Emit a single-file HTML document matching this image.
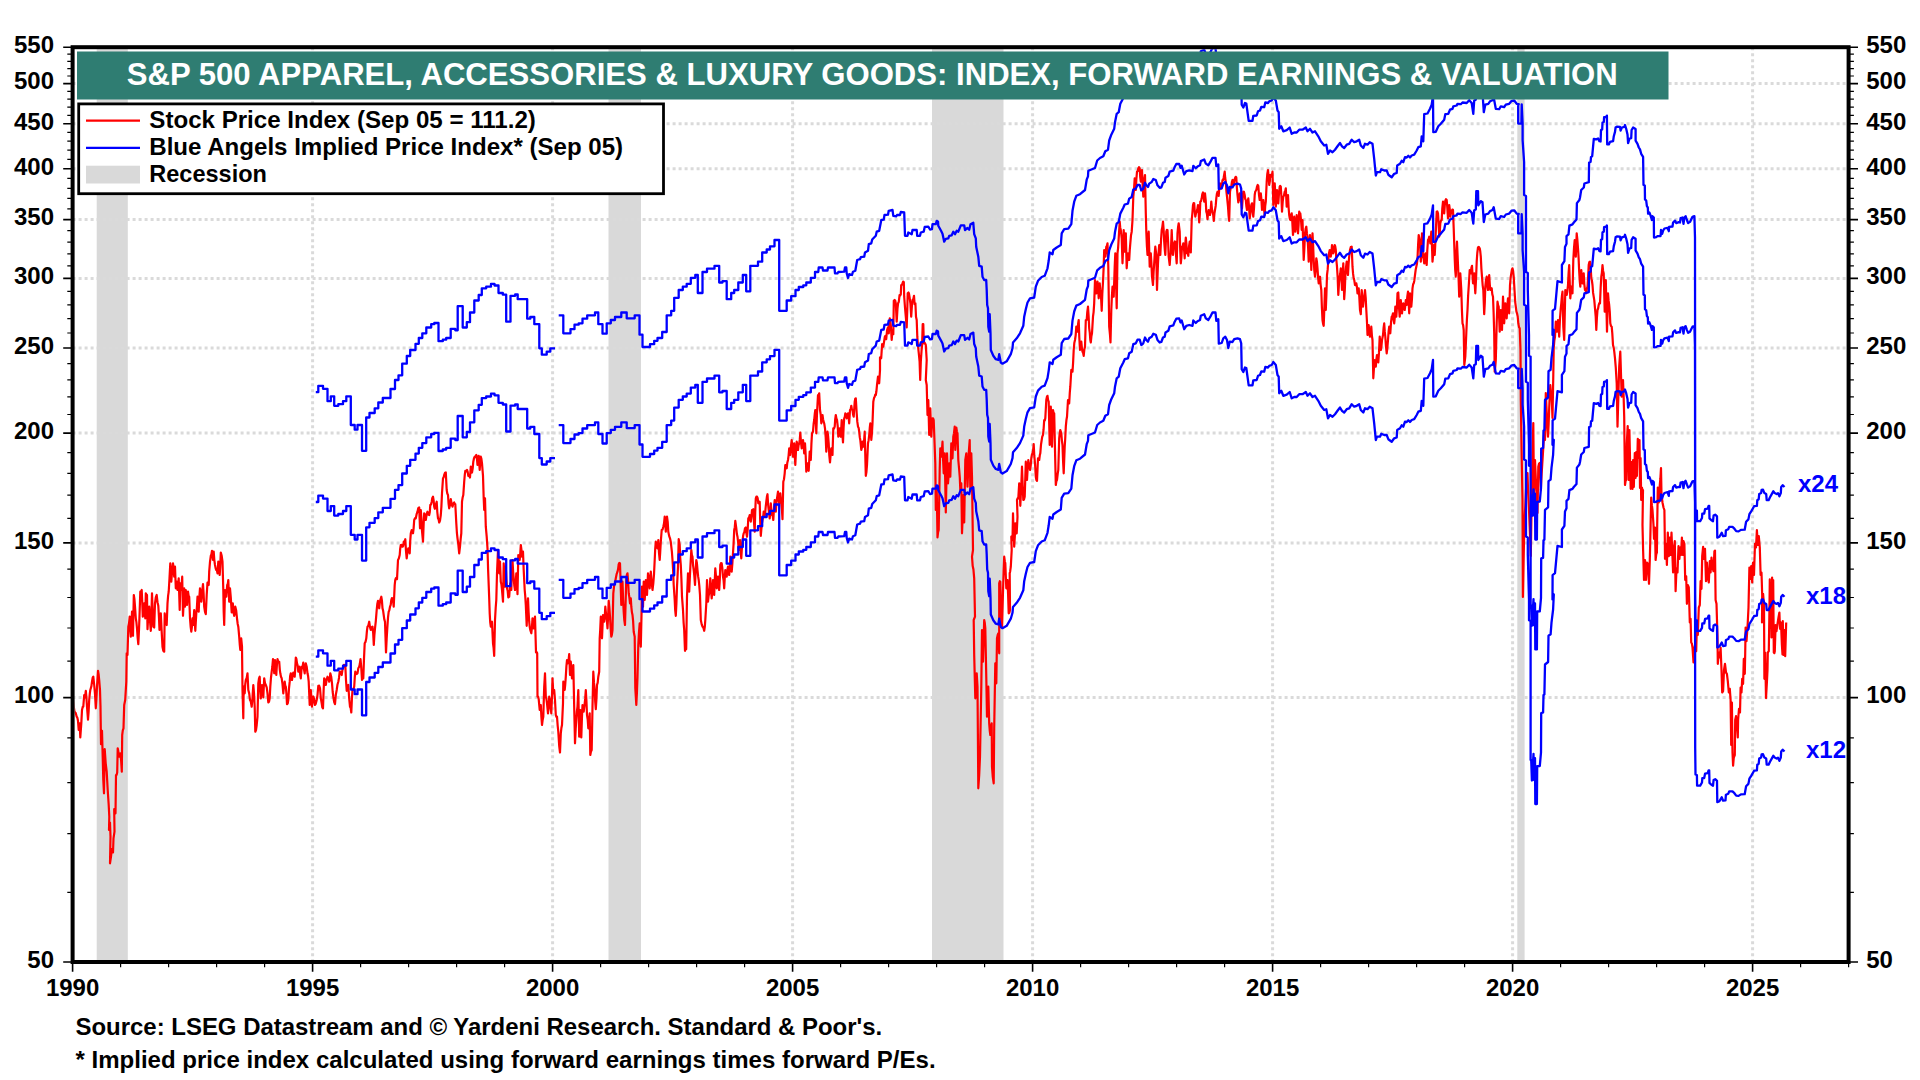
<!DOCTYPE html>
<html lang="en"><head><meta charset="utf-8"><title>S&amp;P 500 Apparel, Accessories &amp; Luxury Goods</title><style>html,body{margin:0;padding:0;background:#fff;width:1920px;height:1080px;overflow:hidden}svg{display:block}</style></head><body>
<svg width="1920" height="1080" viewBox="0 0 1920 1080" font-family='"Liberation Sans", Arial, Helvetica, sans-serif' font-weight="bold">
<rect width="1920" height="1080" fill="#fff"/>
<rect x="96.7" y="47.2" width="31.1" height="914.8" fill="#d9d9d9"/>
<rect x="608.5" y="47.2" width="32.5" height="914.8" fill="#d9d9d9"/>
<rect x="932" y="47.2" width="71.5" height="914.8" fill="#d9d9d9"/>
<rect x="1517.3" y="47.2" width="7.3" height="914.8" fill="#d9d9d9"/>
<path d="M72.6 697.6H1848.6M72.6 542.9H1848.6M72.6 433.1H1848.6M72.6 348.0H1848.6M72.6 278.4H1848.6M72.6 219.6H1848.6M72.6 168.7H1848.6M72.6 123.8H1848.6M72.6 83.6H1848.6M312.6 47.2V962.0M552.6 47.2V962.0M792.6 47.2V962.0M1032.6 47.2V962.0M1272.6 47.2V962.0M1512.6 47.2V962.0M1752.6 47.2V962.0" stroke="#dadada" stroke-width="3" stroke-dasharray="3 3" fill="none"/>
<clipPath id="pc"><rect x="74.6" y="49.2" width="1772" height="910.8"/></clipPath>
<g clip-path="url(#pc)" fill="none" stroke-linejoin="round" stroke-linecap="butt">
<path d="M73.0 700.0L73.7 706.3L74.3 710.2L75.0 712.5L75.8 713.2L76.7 716.7L77.3 717.6L78.0 720.8L78.7 730.0L79.7 723.3L80.3 737.5L81.3 723.3L82.0 710.0L82.7 706.9L83.3 706.7L84.2 695.0L85.0 697.5L85.8 690.8L86.4 697.2L87.0 706.7L88.0 719.7L88.6 712.0L89.2 700.0L89.8 693.7L90.3 690.0L90.8 688.3L91.4 686.1L92.0 681.7L92.7 677.6L93.3 676.7L94.2 685.0L95.0 694.2L95.8 708.3L96.4 699.3L97.0 686.7L98.0 670.8L98.6 674.2L99.2 680.0L100.0 690.0L100.5 706.7L101.0 744.2L102.0 730.8L102.7 756.7L103.3 780.0L104.0 793.3L104.7 749.2L105.7 763.3L106.7 771.7L107.7 790.0L108.7 805.0L109.3 816.7L109.0 830.0L110.0 822.5L110.5 836.7L110.0 863.3L111.0 856.7L111.8 849.2L112.4 849.8L113.0 852.5L113.5 838.3L114.5 831.7L114.2 809.2L114.8 810.0L115.5 813.3L116.0 775.0L116.6 774.9L117.2 772.5L117.7 748.3L118.3 751.3L119.0 756.7L119.7 753.9L120.3 753.3L121.1 760.3L121.8 771.7L122.2 735.0L122.8 730.3L123.5 728.3L124.2 705.0L125.2 700.0L125.8 690.0L126.3 681.7L126.7 653.3L127.5 655.0L128.3 626.7L129.0 623.5L129.7 616.7L130.2 629.0L130.8 636.7L131.4 626.4L132.0 611.7L133.0 635.8L133.8 595.0L134.4 598.9L135.0 606.7L135.8 618.3L136.4 622.1L137.0 628.3L137.7 638.2L138.3 644.2L139.0 629.8L139.7 610.0L140.3 591.7L141.0 592.0L141.7 590.0L142.2 601.4L142.8 616.7L143.5 611.5L144.2 603.3L144.8 612.4L145.3 618.3L145.8 593.3L146.4 595.2L147.0 595.0L147.5 629.2L148.3 615.2L149.2 606.7L150.0 621.0L150.8 630.8L151.4 614.6L152.0 593.3L152.7 611.9L153.3 626.7L154.2 627.5L155.0 603.3L155.8 597.3L156.7 595.0L157.5 602.2L158.3 605.8L158.9 616.0L159.5 630.0L160.2 623.8L160.8 613.3L161.7 632.1L162.5 646.7L163.3 650.7L164.2 651.7L164.7 613.3L165.3 618.5L166.0 622.7L166.7 625.0L167.5 603.3L168.1 595.8L168.7 591.7L169.5 578.3L170.3 563.3L171.3 581.7L172.2 570.1L173.0 563.3L173.6 568.0L174.2 576.7L175.0 566.7L175.8 588.3L176.7 581.7L177.5 590.0L178.1 585.8L178.7 578.3L179.7 610.0L180.3 583.3L181.3 590.0L182.2 576.7L183.0 615.8L183.6 604.0L184.2 588.3L185.0 606.7L185.8 590.0L186.4 599.3L187.0 605.0L188.0 591.7L188.6 595.7L189.2 596.7L190.0 618.3L190.7 627.1L191.3 631.7L191.9 627.0L192.5 618.3L193.3 625.0L194.2 610.0L194.8 622.9L195.3 630.8L196.3 613.3L196.9 607.5L197.5 596.7L198.1 602.6L198.7 611.7L199.3 597.9L200.0 588.3L200.7 593.6L201.3 601.7L202.2 591.1L203.0 584.2L203.6 593.4L204.2 606.7L205.0 611.9L205.8 614.2L206.7 595.0L207.5 582.5L208.1 585.1L208.7 585.0L209.2 571.7L210.0 561.8L210.8 555.8L211.4 554.5L212.0 550.8L213.0 560.0L213.7 551.7L214.3 559.8L215.0 565.0L215.7 568.5L216.3 570.0L216.9 570.2L217.5 573.3L218.3 561.7L219.0 569.8L219.7 575.0L220.2 566.3L220.8 552.5L221.7 555.9L222.5 561.7L223.3 590.0L223.7 611.7L224.2 625.0L225.0 590.0L225.7 591.9L226.3 596.7L227.2 585.0L227.8 583.9L228.3 580.0L229.2 601.7L230.0 588.3L230.8 597.6L231.7 612.5L232.2 609.2L232.8 603.3L233.5 611.7L234.2 615.8L234.8 612.8L235.3 606.7L236.2 610.5L237.0 618.3L237.7 624.0L238.3 626.7L239.2 636.7L239.8 644.8L240.3 650.0L241.2 638.3L242.0 646.7L242.5 690.0L243.3 718.3L243.7 686.7L244.7 693.3L245.2 684.6L245.8 680.0L246.7 678.0L247.5 673.3L248.3 690.0L249.2 693.4L250.0 700.0L250.8 701.6L251.7 706.7L252.5 697.8L253.3 685.0L254.0 693.2L254.7 706.7L255.3 731.7L256.0 730.1L256.7 725.0L257.5 716.7L258.3 683.3L259.0 678.5L259.7 676.7L260.2 689.9L260.8 698.3L261.4 690.0L262.0 685.0L262.7 689.5L263.3 697.5L264.2 678.3L265.0 683.1L265.8 685.0L266.7 687.4L267.5 693.3L268.3 702.5L269.0 701.8L269.7 698.3L270.3 686.7L271.0 677.5L271.7 671.7L272.3 667.0L273.0 659.2L273.6 663.9L274.2 673.3L275.0 660.0L275.7 669.4L276.3 675.0L276.9 664.9L277.5 659.2L278.3 661.5L279.2 661.7L279.8 669.6L280.3 673.3L281.0 676.8L281.7 678.3L282.5 684.2L283.3 693.3L284.0 685.9L284.7 681.7L285.2 685.5L285.8 686.7L286.4 693.4L287.0 704.2L287.7 703.5L288.3 700.0L289.0 688.3L289.7 681.7L290.2 675.7L290.8 673.3L291.4 675.3L292.0 680.0L292.7 674.9L293.3 672.5L294.0 675.6L294.7 676.7L295.2 669.2L295.8 657.5L296.4 658.9L297.0 663.3L297.7 665.6L298.3 671.7L299.0 668.1L299.7 666.7L300.2 674.5L300.8 678.3L301.4 670.7L302.0 666.7L302.7 665.9L303.3 662.5L304.0 669.3L304.7 673.3L305.2 667.1L305.8 663.3L306.7 666.7L307.5 673.3L308.1 676.1L308.7 681.7L309.7 705.0L310.2 695.3L310.8 690.0L311.4 696.8L312.0 706.7L312.7 700.2L313.3 696.7L314.2 699.1L315.0 705.0L315.8 703.6L316.7 700.0L317.5 695.1L318.3 685.8L319.2 685.7L320.0 688.3L320.8 698.1L321.7 703.3L322.3 707.3L323.0 708.3L323.6 690.9L324.2 678.3L325.0 680.0L325.8 685.0L326.7 679.3L327.5 676.7L328.3 678.1L329.2 681.7L329.8 679.1L330.3 673.3L331.2 676.7L332.0 683.3L332.7 692.0L333.3 696.7L334.2 702.1L335.0 704.2L335.8 694.9L336.7 690.0L337.5 684.5L338.3 681.7L339.0 677.9L339.7 671.7L340.3 671.6L341.0 672.6L341.7 675.0L342.5 669.4L343.3 666.7L344.0 664.9L344.7 666.6L345.3 665.0L346.0 680.3L346.7 690.8L347.5 686.5L348.3 685.0L349.2 698.7L350.0 706.7L350.7 708.0L351.3 712.5L351.9 699.0L352.5 690.0L353.3 689.5L354.2 686.7L354.8 677.1L355.3 671.7L356.1 673.1L356.8 674.0L357.5 673.3L358.3 668.3L359.2 666.7L359.8 664.1L360.5 659.2L361.2 666.8L362.0 680.0L362.7 678.0L363.3 678.3L364.0 658.6L364.7 643.3L365.5 641.9L366.3 638.3L366.9 631.1L367.5 626.7L368.3 625.8L369.2 621.7L370.0 627.2L370.8 630.0L371.7 627.2L372.5 626.7L373.2 633.5L373.8 645.0L374.4 634.8L375.0 628.3L375.8 621.2L376.7 610.0L377.3 604.0L378.0 600.8L378.6 606.0L379.2 608.3L379.8 603.0L380.3 600.0L381.3 596.7L381.9 600.4L382.5 608.3L383.1 610.6L383.7 615.0L384.3 619.4L385.0 621.7L386.0 652.5L386.7 638.3L387.3 628.3L388.0 617.6L388.7 611.7L389.3 610.4L390.0 606.7L390.7 604.9L391.3 600.0L391.9 598.2L392.5 598.3L393.1 601.1L393.7 606.7L394.7 585.0L395.2 580.4L395.8 578.3L396.4 577.7L397.0 579.2L398.0 560.0L398.8 558.5L399.7 555.0L400.2 548.7L400.8 545.0L401.7 544.8L402.5 546.7L403.2 545.8L403.8 541.7L404.6 541.8L405.3 539.2L406.0 551.1L406.7 558.3L407.5 551.7L408.3 548.3L409.0 549.3L409.7 553.3L410.2 541.4L410.8 533.3L411.7 530.0L412.3 530.7L413.0 533.3L413.6 528.6L414.2 520.0L415.0 518.2L415.8 518.3L416.7 513.8L417.5 511.7L418.3 508.1L419.2 507.5L420.0 528.3L420.8 510.0L421.4 518.7L422.0 530.8L423.0 541.7L423.6 525.1L424.2 513.3L425.0 515.0L425.8 520.0L426.7 514.2L427.5 511.7L428.3 514.6L429.2 515.0L429.8 512.0L430.3 505.0L431.0 504.6L431.7 501.7L432.3 498.0L433.0 496.7L433.6 500.1L434.2 506.7L434.8 508.8L435.3 508.3L436.0 504.0L436.7 501.7L437.3 512.0L438.0 518.3L438.6 519.4L439.2 522.5L440.0 520.5L440.8 515.0L441.4 506.6L442.0 493.3L443.0 478.3L443.6 477.6L444.2 475.0L445.0 472.8L445.8 472.5L446.7 490.0L447.3 493.5L448.0 495.0L448.6 503.9L449.2 508.3L450.0 505.1L450.8 499.2L451.7 504.2L452.5 506.7L453.3 503.7L454.2 502.5L454.8 504.2L455.3 504.2L456.3 523.3L456.9 532.8L457.5 538.3L458.3 544.2L459.2 553.3L460.0 546.7L460.7 538.6L461.3 533.3L462.0 501.7L462.7 497.2L463.3 495.0L464.2 481.7L464.8 474.7L465.3 470.8L466.2 471.3L467.0 470.0L467.7 471.9L468.3 475.8L469.2 475.5L470.0 477.5L470.8 466.7L471.4 471.1L472.0 472.5L472.7 468.4L473.3 461.7L474.0 458.2L474.7 456.7L475.5 457.0L476.3 455.0L476.9 458.1L477.5 465.0L478.1 458.6L478.7 455.8L479.7 470.0L480.2 461.9L480.8 456.7L481.4 458.9L482.0 463.3L483.0 475.8L483.7 498.3L484.2 510.0L485.0 498.3L485.8 526.7L486.7 536.7L487.5 548.3L488.1 569.6L488.7 585.0L489.2 598.3L489.7 613.3L490.2 622.1L490.8 626.7L491.4 622.8L492.0 621.7L493.0 643.3L493.6 647.8L494.2 655.8L495.0 620.0L495.7 607.8L496.3 600.0L497.0 573.3L498.0 550.0L498.6 559.0L499.2 573.3L500.0 561.7L500.8 581.7L501.4 584.2L502.0 590.0L503.0 601.7L503.7 563.3L504.3 572.3L505.0 586.7L505.8 566.7L506.4 579.6L507.0 588.3L507.7 591.1L508.3 597.5L509.2 596.7L509.8 588.0L510.3 583.3L511.3 590.0L511.9 572.9L512.5 560.0L513.1 571.3L513.7 578.3L514.3 585.5L515.0 590.0L515.7 584.0L516.3 573.3L516.9 581.9L517.5 594.2L518.3 555.0L519.0 556.3L519.7 560.0L520.2 554.5L520.8 545.0L521.4 549.5L522.0 556.7L523.0 551.7L523.7 570.0L524.7 590.0L525.2 595.6L525.8 605.0L526.7 625.8L527.3 609.5L528.0 598.3L528.6 612.1L529.2 621.7L529.8 627.3L530.3 630.0L531.3 633.3L531.9 628.0L532.5 618.3L533.1 621.9L533.7 628.3L534.3 620.4L535.0 616.7L536.0 652.5L536.6 652.0L537.2 653.3L537.5 696.7L538.1 696.6L538.7 699.2L539.7 710.0L540.2 709.1L540.8 705.0L541.4 716.9L542.0 725.0L542.7 719.7L543.3 716.7L544.2 686.7L545.0 673.3L545.8 696.7L546.4 698.9L547.0 703.3L548.0 713.3L548.6 707.5L549.2 696.7L549.8 699.3L550.3 705.0L551.3 713.3L551.9 698.7L552.5 678.3L553.3 693.3L554.2 690.0L555.0 700.0L555.8 715.0L556.4 716.8L557.0 716.7L557.7 726.0L558.3 731.7L559.2 745.8L560.0 752.5L560.8 733.3L561.4 728.0L562.0 725.0L563.0 703.3L563.3 681.7L564.0 687.5L564.7 690.0L565.2 685.0L565.8 676.7L566.4 666.4L567.0 660.0L568.0 663.3L568.6 660.2L569.2 654.2L570.0 675.0L570.8 661.7L571.4 671.5L572.0 678.3L572.7 673.8L573.3 665.0L574.2 706.7L575.0 743.3L575.7 728.7L576.3 720.0L576.9 711.3L577.5 706.7L578.3 690.0L579.2 736.7L579.8 725.4L580.3 710.0L581.3 737.5L581.9 719.0L582.5 705.0L583.1 707.0L583.7 711.7L584.7 703.3L585.2 698.7L585.8 690.0L586.4 700.4L587.0 715.0L587.7 719.5L588.3 728.3L589.0 722.9L589.7 713.3L590.3 755.0L591.0 751.4L591.7 750.0L592.5 706.7L593.3 671.7L594.0 682.9L594.7 690.0L595.2 701.4L595.8 709.2L596.4 699.8L597.0 685.0L597.7 682.6L598.3 676.7L599.2 671.7L599.7 638.3L600.2 630.3L600.8 616.7L601.4 624.9L602.0 638.3L603.0 615.0L603.6 616.6L604.2 621.7L604.8 616.0L605.3 606.7L606.3 616.7L606.9 620.7L607.5 628.3L608.1 617.0L608.7 600.8L609.3 607.1L610.0 616.7L610.7 628.7L611.3 636.7L611.9 634.6L612.5 630.0L613.3 593.3L614.2 585.0L615.0 583.0L615.8 578.3L616.7 573.8L617.5 571.7L618.1 569.1L618.7 564.2L619.3 563.0L620.0 563.3L621.3 605.0L621.9 595.8L622.5 581.7L623.1 599.6L623.7 611.7L624.3 620.1L625.0 625.0L626.3 578.3L626.9 574.7L627.5 573.3L628.1 581.3L628.7 593.3L629.3 596.9L630.0 603.3L630.8 598.3L631.3 606.7L631.9 612.1L632.5 615.0L633.1 620.9L633.7 631.7L634.7 636.7L635.3 688.3L636.3 705.0L636.9 693.1L637.5 676.7L638.3 645.0L639.0 632.0L639.7 623.3L640.2 637.7L640.8 646.7L641.7 606.7L642.0 586.7L643.0 606.7L643.7 581.7L644.7 600.0L645.2 592.0L645.8 580.0L646.4 589.1L647.0 595.0L648.0 573.3L648.8 579.3L649.7 588.3L650.2 578.1L650.8 571.7L651.7 582.9L652.5 590.0L653.3 583.3L654.0 574.5L654.7 560.0L655.2 549.1L655.8 541.7L656.7 546.5L657.5 548.3L658.3 540.0L659.0 552.8L659.7 560.0L660.2 552.4L660.8 541.7L661.7 530.0L662.5 529.8L663.3 526.7L664.0 523.6L664.7 516.7L665.2 522.0L665.8 531.7L666.4 522.6L667.0 516.7L667.7 521.8L668.3 531.7L669.2 536.1L670.0 538.3L670.7 541.4L671.3 546.7L671.9 551.8L672.5 560.0L673.1 569.9L673.7 585.0L674.7 600.0L675.2 610.3L675.8 615.8L676.4 603.7L677.0 586.7L678.0 566.7L678.7 539.2L679.7 545.0L680.2 557.5L680.8 565.0L681.4 578.9L682.0 596.7L683.0 610.0L683.6 622.3L684.2 630.0L685.0 650.8L685.6 649.0L686.2 649.2L687.0 596.7L688.0 573.3L688.6 580.1L689.2 591.7L689.8 578.2L690.3 568.3L691.3 550.0L691.9 555.1L692.5 556.7L693.1 565.6L693.7 570.0L694.3 575.6L695.0 585.0L695.7 570.0L696.3 560.0L696.9 563.0L697.5 570.0L698.1 576.2L698.7 580.0L699.3 585.6L700.0 595.0L700.8 620.0L701.7 624.4L702.5 626.7L703.3 627.4L704.2 630.8L704.8 626.8L705.3 620.0L706.3 603.3L707.0 580.0L708.0 601.7L708.6 595.9L709.2 593.3L709.8 587.6L710.3 578.3L711.0 590.2L711.7 598.3L712.3 591.6L713.0 580.0L713.6 585.9L714.2 595.0L714.8 579.5L715.3 568.3L716.0 576.4L716.7 588.3L717.3 581.0L718.0 576.7L718.6 584.8L719.2 590.0L719.8 580.0L720.3 565.0L721.0 563.1L721.7 563.3L722.3 567.8L723.0 576.7L723.6 580.4L724.2 588.3L724.8 577.3L725.3 570.0L726.0 572.0L726.7 576.7L727.3 570.3L728.0 566.7L728.6 572.6L729.2 575.0L729.8 568.2L730.3 556.7L731.0 561.8L731.7 571.7L732.3 564.3L733.0 553.3L733.6 543.5L734.2 530.0L734.8 527.2L735.3 520.8L736.3 528.3L736.9 534.0L737.5 536.7L738.1 542.0L738.7 550.0L739.3 546.3L740.0 540.0L740.7 551.8L741.3 558.3L741.9 547.9L742.5 541.7L743.1 536.1L743.7 533.3L744.3 532.3L745.0 528.3L745.8 527.5L746.4 533.3L747.0 536.7L747.7 529.3L748.3 518.3L749.0 517.7L749.7 515.0L750.2 519.9L750.8 521.7L751.4 517.1L752.0 510.0L752.7 510.5L753.3 509.2L754.0 522.3L754.7 531.7L755.2 512.6L755.8 498.3L756.4 496.6L757.0 496.7L757.7 498.3L758.3 503.3L759.0 503.5L759.7 501.7L760.2 521.7L760.8 535.8L761.3 530.0L761.9 523.6L762.5 520.0L763.1 517.6L763.7 511.7L764.3 514.2L765.0 515.0L765.7 507.0L766.3 501.7L766.9 496.8L767.5 494.2L768.1 504.5L768.7 510.0L769.7 518.3L770.2 513.0L770.8 503.3L771.4 511.1L772.0 515.0L772.7 515.9L773.3 520.0L774.0 508.3L774.7 500.0L775.2 507.8L775.8 511.7L776.4 503.1L777.0 498.3L778.0 491.7L778.6 499.5L779.2 503.3L779.8 499.8L780.3 493.3L781.3 503.3L781.9 509.3L782.5 519.2L783.3 481.7L784.0 479.2L784.7 473.3L785.3 465.0L786.0 465.5L786.7 468.3L787.3 462.7L788.0 460.0L788.6 455.6L789.2 448.3L789.8 453.3L790.3 455.0L791.0 445.8L791.7 440.0L792.3 446.6L793.0 456.7L793.6 451.8L794.2 443.3L794.8 456.1L795.3 465.0L796.0 451.0L796.7 441.7L797.3 444.2L798.0 450.0L798.6 445.1L799.2 443.3L799.8 439.4L800.3 432.5L801.0 442.3L801.7 448.3L802.3 445.4L803.0 440.0L803.6 445.1L804.2 453.3L805.0 443.3L805.7 455.5L806.3 471.7L806.9 466.1L807.5 463.3L808.1 468.3L808.7 470.8L809.7 451.7L810.2 454.3L810.8 460.0L811.4 444.1L812.0 433.3L813.0 431.7L813.6 424.0L814.2 420.0L814.8 413.7L815.3 410.0L816.3 433.3L817.0 413.3L818.0 395.0L818.6 395.4L819.2 393.3L820.0 410.0L820.7 414.5L821.3 423.3L821.9 420.3L822.5 415.0L823.1 419.5L823.7 421.7L824.3 423.8L825.0 428.3L825.7 437.1L826.3 451.7L826.9 443.9L827.5 431.7L828.1 435.8L828.7 443.3L829.3 455.4L830.0 462.5L830.7 453.9L831.3 448.3L831.9 452.9L832.5 455.0L833.3 428.3L834.0 428.5L834.7 426.7L835.2 419.4L835.8 415.0L836.4 418.5L837.0 420.0L837.7 426.0L838.3 436.7L839.0 433.9L839.7 428.3L840.2 433.8L840.8 436.7L841.7 420.0L842.3 433.1L843.0 442.5L843.6 427.7L844.2 418.3L844.8 416.8L845.3 413.3L846.0 414.4L846.7 418.3L847.3 414.5L848.0 413.3L848.6 416.6L849.2 423.3L850.0 410.0L850.7 409.3L851.3 405.8L851.9 409.4L852.5 410.0L853.1 414.7L853.7 416.7L854.7 401.7L855.2 398.9L855.8 398.3L856.7 413.3L857.3 421.7L858.0 426.7L858.6 427.7L859.2 431.7L859.8 437.4L860.3 440.0L861.3 450.0L861.9 447.5L862.5 441.7L863.1 442.6L863.7 446.7L864.7 431.7L865.8 475.8L866.4 472.4L867.0 465.0L868.0 443.3L868.6 440.4L869.2 435.0L869.8 427.5L870.3 423.3L871.3 440.0L871.9 433.7L872.5 423.3L873.3 401.7L874.0 398.1L874.7 396.7L875.2 394.7L875.8 395.0L876.4 391.3L877.0 385.0L878.0 376.7L878.6 381.6L879.2 383.3L880.0 370.0L880.0 357.5L880.6 357.1L881.2 358.3L882.1 344.2L882.7 346.3L883.3 346.7L884.2 340.8L884.8 336.8L885.4 335.8L886.2 339.2L887.1 330.0L887.9 327.5L888.8 333.3L889.3 324.0L889.8 318.3L890.8 325.0L891.7 340.0L892.5 330.0L893.3 334.2L893.8 300.8L894.6 300.0L895.2 300.6L895.8 303.3L896.7 321.7L897.5 308.3L898.1 303.3L898.8 301.7L899.6 295.0L900.2 295.5L900.8 294.2L901.2 285.0L901.9 285.0L902.5 283.3L903.1 281.6L903.8 282.1L904.2 296.7L905.0 307.5L905.8 316.7L906.7 327.5L907.3 309.2L907.7 293.3L908.5 292.5L909.0 293.6L909.6 297.5L910.4 303.3L911.2 316.7L911.9 306.0L912.5 300.0L913.3 299.2L914.0 295.8L914.6 304.2L915.4 303.3L916.0 316.7L916.7 320.0L917.3 336.7L917.9 345.0L918.8 353.3L919.6 361.7L920.2 380.0L920.8 361.7L921.5 351.2L922.1 345.0L922.7 324.2L923.3 324.2L923.8 343.3L924.4 342.4L925.0 343.3L925.8 345.0L926.7 360.0L925.8 380.0L926.7 385.0L927.5 415.0L928.3 400.0L929.2 435.0L929.8 419.4L930.3 408.3L931.3 436.7L931.9 425.7L932.5 418.3L933.1 418.3L933.7 420.0L934.7 446.7L935.3 463.3L935.8 510.0L936.7 486.7L937.5 537.5L938.1 532.2L938.7 530.0L939.7 470.0L940.3 448.3L941.3 456.7L941.9 450.7L942.5 441.7L943.1 460.0L943.7 473.3L944.7 453.3L945.8 512.5L947.0 453.3L948.0 483.3L948.6 475.7L949.2 463.3L949.8 471.9L950.3 476.7L951.3 443.3L951.9 452.6L952.5 458.3L953.3 436.7L954.0 433.2L954.7 426.7L955.3 450.0L956.3 427.5L956.9 431.5L957.5 433.3L958.3 460.0L959.2 470.0L959.8 477.6L960.3 490.0L961.3 483.3L962.0 533.3L962.7 516.5L963.3 495.0L964.2 522.5L965.3 460.0L966.3 453.3L966.9 472.7L967.5 486.7L968.1 472.8L968.7 453.3L969.7 440.0L970.3 490.0L971.3 453.3L972.0 476.7L973.0 550.0L972.0 556.7L972.7 566.1L973.4 569.2L974.2 578.3L975.0 616.7L973.7 620.0L974.2 655.0L975.3 698.3L976.0 688.1L976.7 673.3L977.5 686.7L978.3 788.3L979.2 774.9L980.0 756.7L981.3 686.7L982.0 630.0L983.0 661.7L984.2 620.0L984.8 623.0L985.3 628.3L986.3 678.3L987.0 716.7L987.7 699.8L988.3 686.7L989.2 723.3L989.8 731.1L990.3 735.0L991.0 727.8L991.7 723.3L992.0 766.7L992.8 777.2L993.7 783.3L994.2 728.3L995.3 663.3L996.3 683.3L997.0 638.3L997.7 634.9L998.3 633.3L999.2 653.3L999.2 583.3L999.8 581.2L1000.3 581.7L1001.3 616.7L1002.0 626.7L1003.0 591.7L1003.6 572.1L1004.2 556.7L1004.8 561.2L1005.3 563.3L1006.3 588.3L1006.9 582.5L1007.5 580.0L1008.1 594.8L1008.7 613.3L1009.3 612.9L1010.0 610.0L1009.7 573.3L1010.2 571.2L1010.8 566.7L1011.7 550.0L1011.3 536.7L1011.9 539.7L1012.5 540.0L1013.0 513.3L1013.6 532.0L1014.2 546.7L1014.8 537.0L1015.3 523.3L1016.0 530.0L1016.7 533.3L1017.5 516.7L1017.0 500.0L1017.7 498.2L1018.3 498.3L1019.2 483.3L1019.8 492.5L1020.3 505.8L1021.3 485.0L1022.0 466.7L1022.7 485.3L1023.3 500.0L1024.0 499.6L1024.7 496.7L1025.2 481.2L1025.8 461.7L1026.4 472.6L1027.0 480.0L1027.7 467.6L1028.3 460.0L1029.0 465.0L1029.7 466.7L1030.0 470.0L1030.7 465.9L1031.3 458.3L1031.9 454.7L1032.5 453.3L1033.1 450.5L1033.7 444.2L1034.3 455.7L1035.0 463.3L1035.8 476.7L1036.4 480.0L1037.0 480.8L1038.0 458.3L1038.6 460.1L1039.2 460.0L1039.8 455.3L1040.3 453.3L1041.0 444.7L1041.7 440.0L1042.3 436.4L1043.0 435.0L1043.6 429.2L1044.2 420.0L1044.8 420.4L1045.3 418.3L1046.3 400.0L1046.9 396.9L1047.5 395.8L1048.1 400.2L1048.7 401.7L1049.7 445.0L1050.2 428.1L1050.8 406.7L1052.0 446.7L1053.0 410.0L1053.6 413.1L1054.2 413.3L1055.0 450.0L1055.8 485.0L1056.4 481.2L1057.0 480.0L1057.7 473.8L1058.3 470.0L1059.2 438.3L1059.8 432.6L1060.3 430.0L1061.3 433.3L1061.9 440.5L1062.5 445.0L1063.1 461.6L1063.7 473.3L1064.7 446.7L1065.2 439.0L1065.8 426.7L1066.4 420.3L1067.0 416.7L1068.0 400.0L1068.6 402.6L1069.2 403.3L1069.8 392.5L1070.3 386.7L1071.3 370.0L1071.9 369.7L1072.5 371.7L1073.1 362.7L1073.7 350.0L1074.3 343.1L1075.0 340.0L1075.7 335.1L1076.3 326.7L1076.9 330.7L1077.5 331.7L1078.1 324.0L1078.7 320.0L1079.3 337.5L1080.0 350.0L1080.7 347.4L1081.3 341.7L1081.9 348.1L1082.5 351.7L1083.1 352.8L1083.7 355.8L1084.3 349.8L1085.0 346.7L1085.8 320.0L1086.7 320.0L1087.3 311.8L1088.0 306.7L1088.6 315.7L1089.2 328.3L1089.8 332.8L1090.3 340.0L1090.8 342.5L1091.4 336.4L1092.0 333.3L1093.0 316.7L1093.6 312.1L1094.2 303.3L1095.0 280.0L1095.7 284.8L1096.3 293.3L1096.9 286.0L1097.5 281.7L1098.1 287.5L1098.7 298.3L1099.7 283.3L1100.2 289.2L1100.8 291.7L1101.7 310.8L1102.3 294.0L1103.0 281.7L1103.6 268.5L1104.2 250.0L1104.8 254.4L1105.3 256.7L1106.3 246.7L1106.9 246.0L1107.5 243.3L1108.3 266.7L1109.2 326.7L1110.0 335.0L1110.5 342.5L1111.3 310.0L1111.9 296.2L1112.5 286.7L1113.1 290.4L1113.7 296.7L1114.7 266.7L1115.3 253.3L1116.7 308.3L1117.5 253.3L1118.1 248.0L1118.7 238.3L1119.7 221.7L1120.2 227.4L1120.8 230.0L1121.7 238.3L1122.5 263.3L1123.1 249.3L1123.7 230.0L1124.7 251.7L1125.2 244.4L1125.8 233.3L1126.7 268.3L1127.3 259.3L1128.0 253.3L1128.6 255.5L1129.2 260.0L1129.8 249.3L1130.3 243.3L1131.0 235.4L1131.7 231.7L1132.5 220.0L1133.3 196.7L1134.0 189.3L1134.7 178.3L1135.2 185.7L1135.8 190.0L1136.4 178.8L1137.0 171.7L1137.7 171.2L1138.3 168.3L1139.0 167.2L1139.7 168.3L1140.2 177.2L1140.8 181.7L1141.4 174.1L1142.0 170.0L1142.7 186.1L1143.3 196.7L1144.2 180.0L1145.0 175.0L1145.8 213.3L1146.3 231.7L1146.9 245.9L1147.5 255.0L1148.1 240.9L1148.7 231.7L1149.7 266.7L1150.2 258.5L1150.8 253.3L1151.4 263.1L1152.0 276.7L1153.0 285.0L1153.6 272.0L1154.2 263.3L1154.8 252.8L1155.3 246.7L1156.3 255.0L1157.0 290.0L1158.0 263.3L1158.6 252.5L1159.2 245.0L1159.8 248.2L1160.3 255.0L1161.0 240.6L1161.7 230.0L1162.3 227.1L1163.0 221.7L1163.6 229.0L1164.2 241.7L1164.8 249.8L1165.3 255.0L1166.3 231.7L1166.9 229.9L1167.5 230.0L1168.1 241.5L1168.7 256.7L1169.7 265.0L1170.2 257.2L1170.8 253.3L1171.7 230.0L1172.3 244.9L1173.0 255.0L1173.6 247.8L1174.2 243.3L1174.8 241.5L1175.3 241.7L1176.0 254.8L1176.7 263.3L1177.5 233.3L1178.1 226.9L1178.7 223.3L1179.7 231.7L1180.2 249.4L1180.8 263.3L1181.4 257.4L1182.0 246.7L1182.7 246.4L1183.3 243.3L1184.0 248.6L1184.7 258.3L1185.2 245.7L1185.8 237.5L1186.4 243.6L1187.0 253.3L1187.7 253.4L1188.3 255.8L1189.0 246.7L1189.7 241.7L1190.2 245.4L1190.8 252.5L1191.7 220.0L1192.3 214.1L1193.0 205.0L1193.6 203.1L1194.2 203.3L1194.8 212.1L1195.3 216.7L1196.0 213.2L1196.7 211.7L1197.3 209.4L1198.0 205.0L1198.6 211.2L1199.2 222.5L1199.8 214.9L1200.3 201.7L1201.0 201.2L1201.7 198.3L1202.3 194.2L1203.0 192.5L1203.6 195.2L1204.2 201.7L1205.0 193.3L1205.7 200.4L1206.3 211.7L1206.9 213.7L1207.5 219.2L1208.1 213.0L1208.7 210.0L1209.3 211.1L1210.0 215.0L1210.7 209.8L1211.3 201.7L1211.9 208.6L1212.5 211.7L1213.2 214.8L1213.8 220.8L1214.4 213.9L1215.0 210.0L1215.7 205.7L1216.3 198.3L1216.9 193.7L1217.5 191.7L1218.1 192.3L1218.7 195.8L1219.3 187.8L1220.0 183.3L1220.7 184.7L1221.3 188.3L1221.9 185.7L1222.5 180.0L1223.1 180.0L1223.7 177.5L1224.7 171.7L1225.2 178.0L1225.8 181.7L1226.4 191.3L1227.0 196.7L1228.0 206.7L1228.6 215.7L1229.2 220.8L1230.0 191.7L1230.7 188.0L1231.3 186.7L1231.9 181.9L1232.5 180.0L1233.1 183.7L1233.7 185.0L1234.3 180.1L1235.0 178.3L1235.7 176.8L1236.3 177.5L1236.9 188.0L1237.5 195.0L1238.3 202.5L1239.0 199.8L1239.7 193.3L1240.2 198.4L1240.8 200.0L1241.4 202.9L1242.0 208.3L1242.7 198.3L1243.3 191.7L1244.0 191.9L1244.7 195.0L1245.2 198.9L1245.8 200.0L1246.4 206.4L1247.0 210.0L1247.7 202.3L1248.3 198.3L1249.0 206.3L1249.7 218.3L1250.2 214.9L1250.8 208.3L1251.4 204.6L1252.0 203.3L1252.7 212.0L1253.3 216.7L1254.0 208.1L1254.7 195.0L1255.2 191.8L1255.8 190.8L1256.4 189.7L1257.0 186.7L1257.7 185.0L1258.3 185.8L1259.0 195.0L1259.7 200.0L1260.2 198.3L1260.8 193.3L1261.4 199.5L1262.0 210.0L1262.7 203.4L1263.3 200.0L1264.0 209.2L1264.7 215.0L1265.2 206.2L1265.8 201.7L1266.7 181.7L1267.3 173.9L1268.0 170.0L1268.6 175.8L1269.2 185.0L1269.8 181.6L1270.3 175.0L1271.0 174.7L1271.7 176.7L1272.5 171.7L1273.3 205.0L1274.0 196.5L1274.7 183.3L1275.2 192.1L1275.8 206.7L1276.4 200.6L1277.0 190.0L1277.7 198.8L1278.3 203.3L1279.0 193.4L1279.7 186.7L1280.2 185.9L1280.8 186.7L1281.4 196.7L1282.0 211.7L1282.7 201.9L1283.3 196.7L1284.0 195.5L1284.7 191.7L1285.2 191.2L1285.8 188.3L1286.7 206.7L1287.3 202.6L1288.0 195.0L1288.6 207.5L1289.2 215.0L1289.8 218.6L1290.3 220.0L1291.0 215.4L1291.7 213.3L1292.3 221.6L1293.0 235.0L1293.6 228.1L1294.2 216.7L1294.8 225.9L1295.3 231.7L1296.0 224.9L1296.7 215.0L1297.3 222.1L1298.0 233.3L1298.6 225.0L1299.2 211.7L1299.8 213.6L1300.3 213.3L1301.0 219.9L1301.7 230.0L1302.5 220.0L1303.7 260.0L1304.3 249.6L1305.0 233.3L1305.7 228.3L1306.3 226.7L1306.9 233.2L1307.5 236.7L1308.1 247.2L1308.7 261.7L1309.3 245.6L1310.0 235.0L1310.7 250.1L1311.3 270.0L1311.9 248.9L1312.5 233.3L1313.1 244.4L1313.7 260.0L1314.3 270.3L1315.0 276.7L1315.7 269.9L1316.3 258.3L1316.9 261.5L1317.5 268.3L1318.1 277.6L1318.7 283.3L1319.3 278.8L1320.0 276.7L1320.7 285.3L1321.3 290.0L1321.9 307.6L1322.5 320.0L1323.1 323.9L1323.7 325.8L1324.3 309.3L1325.0 288.3L1325.8 310.0L1326.4 294.7L1327.0 275.0L1327.7 269.4L1328.3 260.0L1329.0 253.3L1329.7 250.0L1330.2 254.5L1330.8 256.7L1331.4 252.8L1332.0 245.0L1332.7 248.0L1333.3 253.3L1334.0 250.9L1334.7 245.0L1335.2 246.2L1335.8 250.0L1336.4 260.5L1337.0 266.7L1337.7 278.2L1338.3 295.0L1339.0 283.2L1339.7 276.7L1340.2 273.8L1340.8 268.3L1341.4 276.7L1342.0 290.0L1342.7 274.6L1343.3 263.3L1344.2 299.2L1344.8 290.1L1345.3 276.7L1346.0 267.5L1346.7 261.7L1347.3 270.4L1348.0 275.0L1348.6 263.6L1349.2 256.7L1350.0 250.0L1350.8 247.1L1351.7 246.7L1352.5 266.7L1353.1 273.9L1353.7 278.3L1354.3 280.3L1355.0 285.0L1355.7 285.3L1356.3 283.3L1356.9 286.7L1357.5 293.3L1358.1 292.1L1358.7 288.3L1359.3 296.9L1360.0 310.0L1360.8 314.2L1361.7 290.0L1362.3 296.3L1363.0 306.7L1363.6 300.9L1364.2 298.3L1365.0 290.0L1365.7 297.8L1366.3 310.0L1366.9 320.5L1367.5 335.0L1368.1 331.6L1368.7 325.0L1369.3 332.7L1370.0 336.7L1370.7 333.2L1371.3 326.7L1371.9 335.6L1372.5 340.0L1373.3 378.3L1374.0 367.4L1374.7 360.0L1375.2 364.8L1375.8 366.7L1376.4 359.5L1377.0 355.0L1377.7 357.2L1378.3 362.5L1379.0 352.4L1379.7 336.7L1380.2 341.5L1380.8 350.0L1381.4 346.8L1382.0 340.0L1383.0 335.0L1383.6 327.9L1384.2 323.3L1384.8 331.9L1385.3 336.7L1386.0 346.6L1386.7 353.3L1387.3 348.3L1388.0 340.0L1388.6 331.7L1389.2 326.7L1389.8 331.3L1390.3 333.3L1391.0 322.6L1391.7 316.7L1392.3 316.1L1393.0 313.3L1393.6 319.9L1394.2 323.3L1394.8 317.4L1395.3 306.7L1396.3 316.7L1396.9 308.0L1397.5 293.3L1398.3 292.5L1399.0 307.3L1399.7 316.7L1400.2 310.0L1400.8 300.0L1401.4 308.1L1402.0 313.3L1402.7 306.5L1403.3 303.3L1404.0 305.4L1404.7 310.0L1405.2 306.6L1405.8 300.0L1406.7 305.0L1407.3 296.6L1408.0 291.7L1408.6 300.7L1409.2 313.3L1410.0 293.3L1410.7 297.9L1411.3 306.7L1411.9 299.7L1412.5 288.3L1413.1 284.4L1413.7 283.3L1414.3 280.7L1415.0 275.0L1415.7 269.6L1416.3 266.7L1416.9 264.1L1417.5 258.3L1418.1 244.7L1418.7 235.0L1419.7 240.0L1420.2 248.1L1420.8 261.7L1421.4 250.2L1422.0 233.3L1423.0 256.7L1423.6 258.7L1424.2 263.3L1424.8 256.5L1425.3 253.3L1426.0 261.2L1426.7 265.0L1427.3 250.2L1428.0 240.0L1428.6 239.2L1429.2 236.7L1429.8 238.6L1430.3 243.3L1431.3 231.7L1431.9 243.9L1432.5 261.7L1433.1 255.4L1433.7 245.0L1434.7 255.0L1435.2 245.7L1435.8 231.7L1436.7 211.7L1437.3 211.3L1438.0 213.3L1438.6 222.6L1439.2 236.7L1439.8 231.9L1440.3 223.3L1441.0 220.4L1441.7 220.0L1442.3 208.3L1443.0 201.7L1443.6 205.9L1444.2 213.3L1444.8 205.2L1445.3 200.8L1446.0 199.2L1446.7 200.0L1447.3 207.3L1448.0 218.3L1448.6 210.2L1449.2 205.0L1449.8 209.3L1450.3 216.7L1451.0 212.9L1451.7 211.7L1452.3 209.5L1453.0 210.0L1453.7 228.3L1454.7 258.3L1455.2 269.9L1455.8 276.7L1456.4 256.5L1457.0 241.7L1458.0 265.0L1458.6 278.7L1459.2 296.7L1459.8 287.4L1460.3 273.3L1461.3 290.0L1461.9 309.6L1462.5 323.3L1463.1 325.1L1463.7 330.0L1464.3 365.0L1465.3 356.7L1466.3 333.3L1466.9 319.8L1467.5 310.0L1468.1 296.1L1468.7 286.7L1469.7 270.0L1470.2 273.0L1470.8 273.3L1471.4 267.8L1472.0 265.8L1473.0 283.3L1473.6 280.0L1474.2 273.3L1474.8 285.4L1475.3 293.3L1476.0 279.9L1476.7 261.7L1477.3 253.0L1478.0 247.5L1478.8 247.0L1479.7 248.3L1480.2 250.9L1480.8 256.7L1481.4 268.9L1482.0 276.7L1482.7 285.6L1483.3 290.0L1484.2 314.2L1484.8 302.6L1485.3 286.7L1486.0 280.0L1486.7 276.7L1487.3 285.5L1488.0 290.0L1488.6 280.3L1489.2 275.0L1489.8 284.5L1490.3 290.0L1491.0 288.2L1491.7 288.3L1492.3 294.1L1493.0 296.7L1493.6 312.2L1494.2 333.3L1494.7 371.7L1495.2 367.7L1495.8 360.0L1496.7 323.3L1497.5 301.7L1498.1 305.3L1498.7 306.7L1499.7 331.7L1500.2 322.8L1500.8 310.0L1501.4 318.0L1502.0 330.0L1503.0 296.7L1503.6 307.2L1504.2 323.3L1504.8 311.3L1505.3 303.3L1506.0 312.6L1506.7 318.3L1507.3 306.0L1508.0 298.3L1508.6 308.0L1509.2 313.3L1510.0 285.0L1510.7 277.2L1511.3 273.3L1511.9 269.7L1512.5 268.3L1513.1 270.9L1513.7 276.7L1514.7 293.3L1515.2 302.0L1515.8 306.7L1516.4 311.4L1517.0 313.3L1517.7 316.5L1518.3 323.3L1519.0 327.1L1519.7 328.3L1520.5 350.0L1520.8 400.0L1521.7 458.0L1522.5 500.0L1522.9 597.0L1523.6 560.0L1524.5 520.0L1525.2 507.7L1526.0 490.0L1526.8 479.6L1527.5 473.0L1528.2 494.4L1529.0 510.0L1530.8 556.0L1532.0 480.0L1533.3 423.0L1534.0 500.0L1535.0 460.0L1535.8 478.2L1536.7 491.7L1537.5 513.0L1538.3 466.7L1539.0 463.8L1539.7 463.0L1540.2 474.6L1540.8 490.0L1541.7 473.0L1544.2 433.0L1545.0 440.0L1545.8 393.0L1546.7 411.7L1547.3 426.4L1548.0 436.7L1548.6 424.6L1549.2 408.0L1549.8 394.4L1550.3 385.0L1551.0 393.2L1551.7 398.0L1552.5 418.0L1553.3 375.0L1553.7 348.3L1554.3 340.9L1555.0 336.7L1555.8 321.7L1556.4 328.5L1557.0 331.7L1558.0 320.0L1558.6 326.5L1559.2 336.7L1560.0 318.3L1560.7 309.1L1561.3 303.3L1561.9 296.1L1562.5 291.7L1563.3 326.7L1564.2 340.0L1565.3 290.0L1566.0 290.9L1566.7 295.0L1567.3 291.7L1568.0 285.0L1568.6 273.0L1569.2 265.0L1569.8 284.0L1570.3 298.3L1571.3 286.7L1571.9 291.6L1572.5 293.3L1573.3 260.0L1574.0 248.0L1574.7 240.0L1575.2 246.5L1575.8 256.7L1576.7 233.3L1577.3 239.0L1578.0 248.3L1578.6 258.1L1579.2 271.7L1579.8 281.4L1580.3 286.7L1581.3 270.0L1581.9 278.5L1582.5 283.3L1583.1 276.4L1583.7 273.3L1584.3 284.1L1585.0 290.0L1585.7 290.6L1586.3 293.3L1586.9 288.5L1587.5 286.7L1588.1 277.8L1588.7 265.0L1589.3 262.2L1590.0 261.7L1590.7 267.5L1591.3 278.3L1591.9 280.5L1592.5 285.0L1593.1 292.9L1593.7 296.7L1594.3 300.4L1595.0 308.3L1595.7 316.4L1596.3 330.0L1596.9 318.0L1597.5 310.0L1598.1 308.5L1598.7 305.0L1599.3 303.2L1600.0 303.3L1600.7 287.1L1601.3 276.7L1601.9 272.6L1602.5 265.0L1603.1 270.9L1603.7 273.3L1604.7 311.7L1605.2 293.5L1605.8 280.0L1607.0 331.7L1608.0 293.3L1608.6 300.7L1609.2 305.0L1609.8 312.2L1610.3 323.3L1611.0 326.0L1611.7 326.7L1612.3 333.4L1613.0 345.0L1613.7 347.7L1614.3 351.8L1615.0 358.3L1615.8 367.9L1616.7 383.3L1617.5 426.7L1619.2 366.7L1619.8 357.7L1620.3 351.7L1621.7 396.7L1622.3 390.8L1623.0 380.0L1623.6 395.6L1624.2 416.7L1625.0 485.0L1625.6 480.9L1626.2 480.0L1626.8 443.5L1627.7 426.0L1628.7 480.0L1629.4 430.0L1630.0 458.0L1630.7 488.8L1631.6 462.0L1632.5 489.0L1633.1 460.0L1633.8 487.0L1634.8 453.0L1635.6 478.0L1636.2 452.0L1636.9 476.0L1637.8 438.8L1638.6 458.0L1639.5 440.0L1640.0 488.0L1640.6 458.0L1641.2 500.0L1641.9 487.5L1642.5 490.1L1643.0 490.0L1642.5 525.0L1643.1 550.0L1644.0 580.0L1645.0 560.0L1646.0 580.0L1646.9 562.5L1647.5 563.2L1648.1 566.2L1649.0 583.8L1649.8 560.0L1650.2 543.8L1650.6 525.0L1651.2 497.5L1651.9 505.4L1652.5 510.0L1653.5 525.0L1654.0 538.8L1655.0 527.5L1655.6 560.0L1656.2 554.8L1656.9 552.5L1657.2 525.0L1657.8 487.5L1658.8 502.5L1659.8 485.0L1660.4 478.2L1661.0 468.1L1661.5 495.0L1662.5 502.5L1663.5 507.5L1664.4 510.0L1664.8 537.5L1665.0 558.8L1666.0 543.8L1666.9 565.0L1667.8 532.5L1668.8 556.2L1669.8 537.5L1670.6 555.0L1671.5 532.5L1672.2 550.0L1673.1 572.5L1674.0 547.5L1674.8 541.2L1675.6 591.2L1676.5 568.8L1677.5 572.5L1678.5 546.2L1679.4 558.8L1680.2 547.5L1681.0 555.0L1681.9 537.5L1682.8 555.0L1683.5 541.2L1684.4 543.8L1685.2 580.0L1686.2 576.2L1686.9 603.8L1687.8 585.0L1688.8 587.5L1689.8 622.5L1690.6 618.8L1691.2 642.5L1691.9 643.6L1692.5 647.5L1693.5 662.5L1694.4 648.8L1695.0 645.5L1695.6 645.0L1696.2 651.2L1696.9 625.0L1697.8 635.0L1698.8 607.5L1699.8 605.0L1700.6 581.2L1701.5 588.8L1702.2 556.2L1703.1 546.9L1704.0 558.8L1705.0 548.8L1706.0 581.2L1706.9 562.5L1707.8 577.5L1708.8 582.5L1709.8 561.2L1710.6 572.5L1711.5 557.5L1712.5 567.5L1713.5 571.2L1714.4 551.2L1715.0 550.6L1715.6 600.0L1716.5 603.8L1717.5 637.5L1717.8 663.8L1718.8 652.5L1719.8 657.5L1720.6 647.5L1721.5 670.0L1722.2 692.5L1723.1 691.2L1724.0 670.0L1725.0 663.8L1726.0 672.5L1726.9 673.8L1727.8 681.2L1728.8 692.5L1729.8 688.8L1730.6 700.0L1731.2 745.0L1731.9 702.5L1732.5 752.5L1733.1 765.6L1733.8 757.5L1734.8 755.0L1735.2 720.0L1736.0 716.2L1736.9 725.0L1737.8 737.5L1738.1 720.0L1739.0 708.8L1740.0 712.5L1740.6 687.5L1741.5 692.5L1742.2 678.8L1743.1 683.8L1743.8 658.8L1744.8 673.8L1745.2 653.8L1745.6 627.5L1746.5 641.2L1747.5 627.5L1748.5 607.5L1749.4 567.5L1750.2 578.8L1751.2 566.2L1752.2 582.5L1753.1 562.5L1754.0 575.0L1755.0 543.8L1756.0 547.5L1756.9 530.0L1757.8 545.0L1758.8 536.2L1759.8 547.5L1760.6 575.0L1761.5 572.5L1762.2 595.0L1762.0 622.5L1762.6 605.8L1763.1 593.8L1764.0 605.0L1764.4 678.8L1765.2 652.5L1766.0 698.1L1766.9 682.5L1767.5 670.0L1767.8 652.5L1768.8 651.2L1769.4 612.5L1769.8 579.4L1770.4 627.5L1770.9 583.8L1771.5 637.5L1772.1 577.5L1772.8 620.0L1773.2 580.0L1773.8 652.5L1774.4 653.1L1774.8 651.2L1775.6 625.0L1776.5 631.2L1777.5 623.8L1778.5 617.5L1779.4 612.5L1780.0 628.8L1781.0 622.5L1781.9 645.0L1782.5 654.4L1782.8 621.2L1783.5 655.0L1784.4 630.0L1785.2 656.2L1786.2 622.5" stroke="#f00" stroke-width="2.2"/>
<path d="M315.8 392.2L318.3 392.2L318.3 385.8L323.0 385.8L323.0 388.8L327.5 388.8L327.5 401.2L330.8 401.2L330.8 396.3L334.2 396.3L334.2 405.8L338.3 405.8L338.3 404.2L343.0 404.2L343.0 401.2L346.3 401.2L346.3 396.3L350.8 396.3L350.8 425.0L354.7 425.0L354.7 429.7L357.5 429.7L357.5 425.0L362.0 425.0L362.0 450.8L366.2 450.8L366.2 417.5L369.5 417.5L369.5 413.0L374.7 413.0L374.7 408.3L378.3 408.3L378.3 402.5L382.8 402.5L382.8 398.0L390.5 398.0L390.5 389.0L395.0 389.0L395.0 380.0L398.5 380.0L398.5 375.3L402.2 375.3L402.2 363.7L406.8 363.7L406.8 356.0L410.2 356.0L410.2 350.0L415.5 350.0L415.5 343.8L418.8 343.8L418.8 338.0L422.3 338.0L422.3 333.3L426.3 333.3L426.3 327.5L431.2 327.5L431.2 324.2L434.3 324.2L434.3 323.0L438.5 323.0L438.5 341.2L442.8 341.2L442.8 339.7L446.2 339.7L446.2 338.0L450.7 338.0L450.7 328.8L455.3 328.8L455.3 330.3L457.7 330.3L457.7 306.2L462.7 306.2L462.7 327.5L466.8 327.5L466.8 322.2L470.0 322.2L470.0 312.5L474.3 312.5L474.3 300.5L478.7 300.5L478.7 295.0L481.8 295.0L481.8 288.3L486.2 288.3L486.2 286.7L491.0 286.7L491.0 283.8L494.5 283.8L494.5 285.5L498.5 285.5L498.5 293.0L502.8 293.0L502.8 294.7L506.2 294.7L506.2 321.7L510.5 321.7L510.5 295.8L515.2 295.8L515.2 294.5L517.7 294.5L517.7 299.2L527.2 299.2L527.2 318.7L530.3 318.7L530.3 317.0L534.3 317.0L534.3 324.2L539.3 324.2L539.3 348.3L541.8 348.3L541.8 354.7L546.7 354.7L546.7 351.7L550.3 351.7L550.3 348.3L555.0 348.3M558.7 315.3L563.3 315.3L563.3 333.3L570.5 333.3L570.5 329.2L574.5 329.2L574.5 324.7L578.7 324.7L578.7 323.3L582.5 323.3L582.5 318.7L587.2 318.7L587.2 315.3L595.0 315.3L595.0 312.5L598.3 312.5L598.3 324.2L602.5 324.2L602.5 333.7L606.7 333.7L606.7 323.3L610.8 323.3L610.8 320.0L615.0 320.0L615.0 317.0L621.3 317.0L621.3 312.5L626.7 312.5L626.7 318.3L634.7 318.3L634.7 315.3L639.5 315.3L639.5 334.7L642.5 334.7L642.5 347.0L650.0 347.0L650.0 344.2L654.2 344.2L654.2 340.8L657.5 340.8L657.5 338.0L662.2 338.0L662.2 332.0L666.7 332.0L666.7 315.3L671.2 315.3L671.2 310.8L674.2 310.8L674.2 297.8L678.7 297.8L678.7 290.0L682.8 290.0L682.8 286.7L686.7 286.7L686.7 283.8L690.8 283.8L690.8 277.8L695.3 277.8L695.3 275.0L697.8 275.0L697.8 293.0L702.5 293.0L702.5 272.0L707.0 272.0L707.0 268.7L714.5 268.7L714.5 265.8L719.2 265.8L719.2 282.5L722.5 282.5L722.5 281.2L726.7 281.2L726.7 299.2L731.2 299.2L731.2 293.0L734.2 293.0L734.2 290.0L738.3 290.0L738.3 282.5L742.8 282.5L742.8 275.0L746.2 275.0L746.2 291.3L750.3 291.3L750.3 265.8L758.0 265.8L758.0 261.7L762.2 261.7L762.2 252.5L766.7 252.5L766.7 249.5L770.0 249.5L770.0 246.3L774.5 246.3L774.5 240.0L779.2 240.0L779.2 310.8L786.7 310.8L786.7 300.5L791.2 300.5L791.2 296.2L795.5 296.2L795.5 290.0L798.8 290.0L798.8 287.0L803.3 287.0L803.3 285.3L806.3 285.3L806.3 282.5L810.8 282.5L810.8 277.8L815.0 277.8L815.0 272.0L818.0 272.0L818.3 272.0L818.7 267.5L822.5 267.5L823.0 270.5L827.5 270.5L828.0 267.5L834.5 267.5L835.0 273.3L837.5 273.3L838.3 272.0L844.2 271.7L845.0 267.5L846.3 267.5L846.7 273.3L848.0 278.0L849.2 274.2L852.0 275.0L853.0 271.7L855.3 270.8L857.2 260.0L860.0 259.2L860.8 257.2L864.2 256.7L865.0 252.5L868.0 250.8L868.8 244.2L871.3 243.3L872.2 239.5L875.8 235.8L876.7 231.7L879.2 230.8L881.3 220.0L883.7 219.7L884.5 215.0L888.0 214.7L888.7 210.8L892.5 210.0L893.3 215.8L896.2 216.3L897.0 215.0L900.0 215.0L900.8 212.0L904.2 212.5L905.0 235.8L907.5 235.8L908.3 232.5L911.7 234.2L912.5 230.0L916.7 230.0L917.2 235.8L920.0 235.8L920.8 232.5L923.7 231.7L924.7 227.0L928.3 226.7L930.0 229.5L932.0 229.2L932.5 224.2L935.8 224.2L936.7 220.8L938.0 221.7L938.3 225.8L941.3 231.3L942.5 233.7L944.2 241.7L945.8 238.8L948.3 238.3L949.2 235.8L951.7 235.3L953.3 231.7L955.0 234.2L956.7 230.8L958.3 231.7L960.8 225.3L964.2 225.3L965.0 230.0L967.5 228.0L969.2 229.7L970.5 224.2L973.3 222.8L974.2 234.2L975.8 238.3L976.2 246.7L978.3 256.7L979.2 265.8L981.7 266.7L982.5 276.7L984.2 280.0L986.2 280.0L986.7 290.0L987.2 305.0L988.0 308.3L988.3 326.7L989.2 331.7L989.7 314.2L990.5 333.3L990.8 350.0L993.3 355.8L995.8 359.2L998.3 360.0L999.2 354.2L1000.8 362.5L1002.5 363.7L1006.7 361.3L1010.8 354.2L1012.5 348.3L1013.0 342.5L1016.7 338.3L1020.0 333.3L1023.3 325.8L1024.2 316.7L1025.8 309.2L1027.5 302.5L1030.0 298.3L1034.2 297.5L1035.8 286.7L1038.0 280.8L1041.7 277.0L1044.7 275.8L1047.5 268.3L1048.7 260.8L1049.7 252.5L1052.5 254.2L1053.3 250.0L1056.7 247.5L1060.8 245.0L1061.7 233.3L1064.2 229.2L1068.3 228.7L1071.3 224.2L1072.5 210.8L1074.2 201.7L1076.3 195.8L1080.0 194.2L1085.0 190.0L1086.7 179.7L1088.0 176.3L1088.3 170.8L1090.8 169.7L1095.0 168.0L1097.2 160.5L1100.0 158.0L1103.3 156.3L1105.3 151.3L1108.0 149.7L1109.2 140.5L1111.3 134.7L1114.2 128.8L1115.0 122.2L1116.7 113.8L1118.7 112.2L1120.3 103.8L1123.3 98.0L1124.7 94.7L1128.0 93.8L1129.2 88.8L1131.7 87.2L1133.3 79.7L1135.8 78.8L1137.5 75.2L1139.7 75.2L1141.3 80.5L1143.3 78.8L1145.0 73.0L1146.3 75.5L1148.0 77.2L1149.2 73.8L1151.7 72.2L1153.3 69.2L1155.8 70.2L1157.5 75.5L1159.7 78.0L1161.3 77.5L1163.0 73.0L1164.7 72.2L1165.5 68.0L1168.3 66.3L1169.7 61.8L1173.3 60.8L1174.7 57.2L1176.3 54.2L1179.2 54.0L1180.5 58.0L1181.7 56.0L1184.2 64.7L1186.3 61.3L1189.2 60.5L1192.5 61.3L1193.3 56.0L1195.8 58.5L1197.5 56.8L1200.0 55.5L1200.8 51.3L1204.2 49.7L1205.8 53.8L1208.3 55.5L1210.8 51.3L1212.5 48.0L1215.5 48.0L1216.3 56.3L1218.3 54.7L1218.8 79.2L1221.7 78.5L1223.3 73.8L1225.3 72.2L1227.0 75.5L1228.3 83.5L1229.7 77.2L1232.5 77.5L1234.2 74.7L1237.5 73.8L1240.0 74.7L1241.2 78.8L1241.7 104.7L1243.3 107.5L1245.0 103.0L1246.3 103.5L1248.7 120.8L1252.5 120.8L1253.3 115.8L1256.7 115.5L1258.0 111.3L1260.0 110.5L1261.3 106.8L1264.2 107.2L1265.3 102.5L1268.0 103.0L1269.2 101.3L1271.7 100.5L1273.3 97.5L1275.8 100.5L1277.5 110.5L1278.7 112.2L1279.2 128.8L1281.3 126.3L1283.3 131.3L1286.7 130.2L1289.7 127.5L1291.7 133.8L1294.2 132.5L1296.7 132.5L1299.2 129.7L1302.5 129.7L1305.8 127.5L1307.5 131.3L1310.0 128.8L1312.5 132.5L1315.0 131.3L1318.3 136.3L1320.8 141.3L1324.2 145.5L1326.3 144.7L1328.0 153.8L1330.0 150.5L1332.5 152.2L1335.0 149.7L1337.5 146.3L1340.0 143.0L1342.0 146.3L1344.2 148.0L1346.7 144.7L1349.2 143.8L1351.7 139.7L1354.2 142.2L1356.7 141.3L1359.2 139.7L1360.8 145.5L1363.3 148.0L1365.0 143.8L1367.5 144.7L1369.7 142.2L1372.5 143.8L1374.2 158.8L1375.0 167.2L1375.8 175.5L1377.0 172.2L1380.0 172.2L1381.3 169.3L1384.2 170.5L1386.7 170.5L1388.3 174.7L1391.7 177.2L1394.2 173.8L1396.7 173.0L1397.2 165.5L1400.0 163.8L1401.7 160.8L1403.3 162.2L1405.0 157.2L1406.7 157.5L1408.3 155.8L1410.0 157.5L1411.7 155.5L1414.2 154.7L1416.7 150.5L1418.3 147.2L1420.8 146.3L1421.7 136.3L1423.3 141.3L1424.2 114.2L1427.5 113.5L1430.0 108.8L1431.7 104.7L1433.0 95.5L1433.3 132.2L1435.8 131.8L1438.3 126.3L1440.8 123.8L1444.2 119.7L1445.3 114.2L1448.3 113.8L1450.0 109.7L1452.5 108.8L1453.3 106.3L1456.7 105.5L1457.5 103.8L1460.8 104.2L1462.5 102.5L1466.7 103.0L1469.2 100.2L1471.7 103.0L1473.3 113.8L1474.2 100.5L1475.8 99.7L1476.3 81.3L1478.0 81.3L1478.3 95.5L1480.8 91.3L1482.5 92.5L1483.8 112.2L1485.3 104.7L1488.3 103.8L1490.0 101.3L1492.5 100.2L1493.7 97.5L1495.8 108.8L1499.2 109.2L1500.8 106.3L1504.2 107.2L1505.8 104.7L1509.2 103.8L1511.7 100.8L1514.2 100.5L1516.7 103.8L1518.7 104.2L1518.2 105.3L1518.2 123.6L1521.4 123.6L1521.7 104.4L1522.6 123.6L1522.6 140.0L1524.1 162.0L1524.1 195.0L1526.0 196.0L1526.0 272.0L1527.8 273.0L1527.8 290.0L1529.0 335.0L1529.0 355.8L1530.6 356.5L1530.6 495.5L1531.2 495.5L1531.9 516.0L1533.5 489.3L1534.0 515.5L1535.0 493.6L1535.3 539.6L1536.9 539.6L1537.2 501.8L1539.8 501.5L1541.0 488.0L1541.2 448.6L1543.1 448.0L1543.5 430.5L1544.4 430.0L1545.0 400.0L1548.1 397.5L1548.5 371.3L1550.6 369.8L1551.5 358.1L1553.1 345.0L1553.8 330.0L1552.5 335.0L1552.6 310.6L1555.0 308.8L1557.5 281.2L1561.9 282.5L1561.9 265.0L1564.4 261.2L1565.0 246.9L1566.5 243.8L1566.5 236.2L1568.5 234.4L1569.4 225.6L1572.5 224.4L1573.8 222.5L1576.5 219.4L1576.9 203.1L1579.4 200.0L1580.0 197.5L1581.2 190.0L1583.8 187.5L1584.4 183.5L1588.8 182.2L1589.1 162.5L1590.6 161.9L1591.0 156.9L1592.2 156.2L1593.8 138.8L1596.2 139.4L1598.1 138.5L1599.4 141.2L1600.6 141.5L1601.0 130.0L1602.2 129.4L1602.5 122.5L1603.8 121.9L1604.1 117.2L1606.2 116.9L1606.9 115.6L1607.2 144.4L1608.8 144.4L1610.0 141.9L1613.1 141.2L1613.8 136.2L1615.0 131.9L1615.6 127.5L1616.9 126.6L1620.0 126.9L1620.6 130.6L1621.9 127.5L1624.4 126.9L1625.0 125.0L1626.2 128.8L1627.5 134.4L1628.1 143.1L1629.4 138.8L1631.2 138.1L1631.6 130.0L1633.1 127.5L1635.6 129.0L1635.6 140.6L1637.5 143.8L1638.8 147.5L1640.0 149.4L1641.2 153.8L1643.1 156.9L1643.5 185.0L1644.8 185.6L1645.0 199.4L1646.2 200.6L1646.9 206.2L1647.8 207.5L1648.1 213.8L1649.4 212.5L1650.6 215.6L1651.9 220.0L1652.5 216.2L1652.5 216.2L1653.8 217.5L1654.0 237.5L1656.2 237.2L1657.5 236.2L1660.6 236.0L1661.0 230.0L1662.2 233.8L1663.1 230.6L1664.4 228.5L1667.5 227.8L1668.8 231.2L1669.1 226.9L1672.5 226.5L1673.1 222.5L1675.0 220.6L1676.2 223.1L1678.8 222.2L1680.0 222.5L1680.6 218.1L1682.5 217.5L1683.5 223.8L1684.4 217.5L1685.6 216.2L1686.9 220.0L1688.1 223.1L1690.0 221.9L1691.2 219.4L1692.5 216.9L1694.4 216.2L1695.0 237.5L1695.2 483.7L1695.5 510.0L1696.9 510.5L1697.1 521.2L1700.2 521.1L1702.0 518.0L1702.3 513.7L1704.2 513.6L1705.1 509.1L1707.7 508.6L1708.6 505.8L1709.2 505.8L1709.5 518.4L1711.4 520.3L1713.0 521.2L1713.6 515.6L1715.2 514.7L1717.0 516.4L1717.3 537.7L1719.4 536.7L1721.7 532.7L1723.1 536.2L1725.5 535.8L1725.9 530.2L1728.3 529.2L1729.2 526.9L1732.5 526.9L1734.4 528.7L1736.2 531.1L1738.6 531.4L1740.9 529.9L1744.7 529.7L1746.1 521.7L1748.4 519.4L1749.4 514.2L1751.2 511.4L1754.1 506.2L1756.9 505.8L1757.3 500.2L1758.7 499.2L1759.2 494.1L1761.1 493.1L1761.6 489.8L1763.0 489.6L1764.4 493.1L1766.2 494.1L1766.7 500.2L1768.6 500.2L1770.0 497.3L1772.3 493.1L1773.3 491.2L1774.7 493.1L1776.6 494.1L1778.0 493.1L1779.4 496.4L1780.8 493.1L1781.2 487.0L1782.7 485.2L1784.5 487.0M315.8 502.0L318.3 502.0L318.3 495.6L323.0 495.6L323.0 498.6L327.5 498.6L327.5 511.0L330.8 511.0L330.8 506.1L334.2 506.1L334.2 515.6L338.3 515.6L338.3 514.0L343.0 514.0L343.0 511.0L346.3 511.0L346.3 506.1L350.8 506.1L350.8 534.8L354.7 534.8L354.7 539.5L357.5 539.5L357.5 534.8L362.0 534.8L362.0 560.6L366.2 560.6L366.2 527.3L369.5 527.3L369.5 522.8L374.7 522.8L374.7 518.1L378.3 518.1L378.3 512.3L382.8 512.3L382.8 507.8L390.5 507.8L390.5 498.8L395.0 498.8L395.0 489.8L398.5 489.8L398.5 485.1L402.2 485.1L402.2 473.5L406.8 473.5L406.8 465.8L410.2 465.8L410.2 459.8L415.5 459.8L415.5 453.6L418.8 453.6L418.8 447.8L422.3 447.8L422.3 443.1L426.3 443.1L426.3 437.3L431.2 437.3L431.2 434.0L434.3 434.0L434.3 432.8L438.5 432.8L438.5 451.0L442.8 451.0L442.8 449.5L446.2 449.5L446.2 447.8L450.7 447.8L450.7 438.6L455.3 438.6L455.3 440.1L457.7 440.1L457.7 416.0L462.7 416.0L462.7 437.3L466.8 437.3L466.8 432.0L470.0 432.0L470.0 422.3L474.3 422.3L474.3 410.3L478.7 410.3L478.7 404.8L481.8 404.8L481.8 398.1L486.2 398.1L486.2 396.5L491.0 396.5L491.0 393.6L494.5 393.6L494.5 395.3L498.5 395.3L498.5 402.8L502.8 402.8L502.8 404.5L506.2 404.5L506.2 431.5L510.5 431.5L510.5 405.6L515.2 405.6L515.2 404.3L517.7 404.3L517.7 409.0L527.2 409.0L527.2 428.5L530.3 428.5L530.3 426.8L534.3 426.8L534.3 434.0L539.3 434.0L539.3 458.1L541.8 458.1L541.8 464.5L546.7 464.5L546.7 461.5L550.3 461.5L550.3 458.1L555.0 458.1M558.7 425.1L563.3 425.1L563.3 443.1L570.5 443.1L570.5 439.0L574.5 439.0L574.5 434.5L578.7 434.5L578.7 433.1L582.5 433.1L582.5 428.5L587.2 428.5L587.2 425.1L595.0 425.1L595.0 422.3L598.3 422.3L598.3 434.0L602.5 434.0L602.5 443.5L606.7 443.5L606.7 433.1L610.8 433.1L610.8 429.8L615.0 429.8L615.0 426.8L621.3 426.8L621.3 422.3L626.7 422.3L626.7 428.1L634.7 428.1L634.7 425.1L639.5 425.1L639.5 444.5L642.5 444.5L642.5 456.8L650.0 456.8L650.0 454.0L654.2 454.0L654.2 450.6L657.5 450.6L657.5 447.8L662.2 447.8L662.2 441.8L666.7 441.8L666.7 425.1L671.2 425.1L671.2 420.6L674.2 420.6L674.2 407.6L678.7 407.6L678.7 399.8L682.8 399.8L682.8 396.5L686.7 396.5L686.7 393.6L690.8 393.6L690.8 387.6L695.3 387.6L695.3 384.8L697.8 384.8L697.8 402.8L702.5 402.8L702.5 381.8L707.0 381.8L707.0 378.5L714.5 378.5L714.5 375.6L719.2 375.6L719.2 392.3L722.5 392.3L722.5 391.0L726.7 391.0L726.7 409.0L731.2 409.0L731.2 402.8L734.2 402.8L734.2 399.8L738.3 399.8L738.3 392.3L742.8 392.3L742.8 384.8L746.2 384.8L746.2 401.1L750.3 401.1L750.3 375.6L758.0 375.6L758.0 371.5L762.2 371.5L762.2 362.3L766.7 362.3L766.7 359.3L770.0 359.3L770.0 356.1L774.5 356.1L774.5 349.8L779.2 349.8L779.2 420.6L786.7 420.6L786.7 410.3L791.2 410.3L791.2 406.0L795.5 406.0L795.5 399.8L798.8 399.8L798.8 396.8L803.3 396.8L803.3 395.1L806.3 395.1L806.3 392.3L810.8 392.3L810.8 387.6L815.0 387.6L815.0 381.8L818.0 381.8L818.3 381.8L818.7 377.3L822.5 377.3L823.0 380.3L827.5 380.3L828.0 377.3L834.5 377.3L835.0 383.1L837.5 383.1L838.3 381.8L844.2 381.5L845.0 377.3L846.3 377.3L846.7 383.1L848.0 387.8L849.2 384.0L852.0 384.8L853.0 381.5L855.3 380.6L857.2 369.8L860.0 369.0L860.8 367.0L864.2 366.5L865.0 362.3L868.0 360.6L868.8 354.0L871.3 353.1L872.2 349.3L875.8 345.6L876.7 341.5L879.2 340.6L881.3 329.8L883.7 329.5L884.5 324.8L888.0 324.5L888.7 320.6L892.5 319.8L893.3 325.6L896.2 326.1L897.0 324.8L900.0 324.8L900.8 321.8L904.2 322.3L905.0 345.6L907.5 345.6L908.3 342.3L911.7 344.0L912.5 339.8L916.7 339.8L917.2 345.6L920.0 345.6L920.8 342.3L923.7 341.5L924.7 336.8L928.3 336.5L930.0 339.3L932.0 339.0L932.5 334.0L935.8 334.0L936.7 330.6L938.0 331.5L938.3 335.6L941.3 341.1L942.5 343.5L944.2 351.5L945.8 348.6L948.3 348.1L949.2 345.6L951.7 345.1L953.3 341.5L955.0 344.0L956.7 340.6L958.3 341.5L960.8 335.1L964.2 335.1L965.0 339.8L967.5 337.8L969.2 339.5L970.5 334.0L973.3 332.6L974.2 344.0L975.8 348.1L976.2 356.5L978.3 366.5L979.2 375.6L981.7 376.5L982.5 386.5L984.2 389.8L986.2 389.8L986.7 399.8L987.2 414.8L988.0 418.1L988.3 436.5L989.2 441.5L989.7 424.0L990.5 443.1L990.8 459.8L993.3 465.6L995.8 469.0L998.3 469.8L999.2 464.0L1000.8 472.3L1002.5 473.5L1006.7 471.1L1010.8 464.0L1012.5 458.1L1013.0 452.3L1016.7 448.1L1020.0 443.1L1023.3 435.6L1024.2 426.5L1025.8 419.0L1027.5 412.3L1030.0 408.1L1034.2 407.3L1035.8 396.5L1038.0 390.6L1041.7 386.8L1044.7 385.6L1047.5 378.1L1048.7 370.6L1049.7 362.3L1052.5 364.0L1053.3 359.8L1056.7 357.3L1060.8 354.8L1061.7 343.1L1064.2 339.0L1068.3 338.5L1071.3 334.0L1072.5 320.6L1074.2 311.5L1076.3 305.6L1080.0 304.0L1085.0 299.8L1086.7 289.5L1088.0 286.1L1088.3 280.6L1090.8 279.5L1095.0 277.8L1097.2 270.3L1100.0 267.8L1103.3 266.1L1105.3 261.1L1108.0 259.5L1109.2 250.3L1111.3 244.5L1114.2 238.6L1115.0 232.0L1116.7 223.6L1118.7 222.0L1120.3 213.6L1123.3 207.8L1124.7 204.5L1128.0 203.6L1129.2 198.6L1131.7 197.0L1133.3 189.5L1135.8 188.6L1137.5 185.0L1139.7 185.0L1141.3 190.3L1143.3 188.6L1145.0 182.8L1146.3 185.3L1148.0 187.0L1149.2 183.6L1151.7 182.0L1153.3 179.0L1155.8 180.0L1157.5 185.3L1159.7 187.8L1161.3 187.3L1163.0 182.8L1164.7 182.0L1165.5 177.8L1168.3 176.1L1169.7 171.6L1173.3 170.6L1174.7 167.0L1176.3 164.0L1179.2 163.8L1180.5 167.8L1181.7 165.8L1184.2 174.5L1186.3 171.1L1189.2 170.3L1192.5 171.1L1193.3 165.8L1195.8 168.3L1197.5 166.6L1200.0 165.3L1200.8 161.1L1204.2 159.5L1205.8 163.6L1208.3 165.3L1210.8 161.1L1212.5 157.8L1215.5 157.8L1216.3 166.1L1218.3 164.5L1218.8 189.0L1221.7 188.3L1223.3 183.6L1225.3 182.0L1227.0 185.3L1228.3 193.3L1229.7 187.0L1232.5 187.3L1234.2 184.5L1237.5 183.6L1240.0 184.5L1241.2 188.6L1241.7 214.5L1243.3 217.3L1245.0 212.8L1246.3 213.3L1248.7 230.6L1252.5 230.6L1253.3 225.6L1256.7 225.3L1258.0 221.1L1260.0 220.3L1261.3 216.6L1264.2 217.0L1265.3 212.3L1268.0 212.8L1269.2 211.1L1271.7 210.3L1273.3 207.3L1275.8 210.3L1277.5 220.3L1278.7 222.0L1279.2 238.6L1281.3 236.1L1283.3 241.1L1286.7 240.0L1289.7 237.3L1291.7 243.6L1294.2 242.3L1296.7 242.3L1299.2 239.5L1302.5 239.5L1305.8 237.3L1307.5 241.1L1310.0 238.6L1312.5 242.3L1315.0 241.1L1318.3 246.1L1320.8 251.1L1324.2 255.3L1326.3 254.5L1328.0 263.6L1330.0 260.3L1332.5 262.0L1335.0 259.5L1337.5 256.1L1340.0 252.8L1342.0 256.1L1344.2 257.8L1346.7 254.5L1349.2 253.6L1351.7 249.5L1354.2 252.0L1356.7 251.1L1359.2 249.5L1360.8 255.3L1363.3 257.8L1365.0 253.6L1367.5 254.5L1369.7 252.0L1372.5 253.6L1374.2 268.6L1375.0 277.0L1375.8 285.3L1377.0 282.0L1380.0 282.0L1381.3 279.1L1384.2 280.3L1386.7 280.3L1388.3 284.5L1391.7 287.0L1394.2 283.6L1396.7 282.8L1397.2 275.3L1400.0 273.6L1401.7 270.6L1403.3 272.0L1405.0 267.0L1406.7 267.3L1408.3 265.6L1410.0 267.3L1411.7 265.3L1414.2 264.5L1416.7 260.3L1418.3 257.0L1420.8 256.1L1421.7 246.1L1423.3 251.1L1424.2 224.0L1427.5 223.3L1430.0 218.6L1431.7 214.5L1433.0 205.3L1433.3 242.0L1435.8 241.6L1438.3 236.1L1440.8 233.6L1444.2 229.5L1445.3 224.0L1448.3 223.6L1450.0 219.5L1452.5 218.6L1453.3 216.1L1456.7 215.3L1457.5 213.6L1460.8 214.0L1462.5 212.3L1466.7 212.8L1469.2 210.0L1471.7 212.8L1473.3 223.6L1474.2 210.3L1475.8 209.5L1476.3 191.1L1478.0 191.1L1478.3 205.3L1480.8 201.1L1482.5 202.3L1483.8 222.0L1485.3 214.5L1488.3 213.6L1490.0 211.1L1492.5 210.0L1493.7 207.3L1495.8 218.6L1499.2 219.0L1500.8 216.1L1504.2 217.0L1505.8 214.5L1509.2 213.6L1511.7 210.6L1514.2 210.3L1516.7 213.6L1518.7 214.0L1518.2 215.1L1518.2 233.4L1521.4 233.4L1521.7 214.2L1522.6 233.4L1522.6 249.8L1524.1 271.8L1524.1 304.8L1526.0 305.8L1526.0 381.8L1527.8 382.8L1527.8 399.8L1529.0 444.8L1529.0 465.6L1530.6 466.3L1530.6 605.3L1531.2 605.3L1531.9 625.8L1533.5 599.1L1534.0 625.3L1535.0 603.4L1535.3 649.4L1536.9 649.4L1537.2 611.5L1539.8 611.3L1541.0 597.8L1541.2 558.4L1543.1 557.8L1543.5 540.3L1544.4 539.8L1545.0 509.8L1548.1 507.3L1548.5 481.1L1550.6 479.6L1551.5 467.9L1553.1 454.8L1553.8 439.8L1552.5 444.8L1552.6 420.4L1555.0 418.6L1557.5 391.1L1561.9 392.3L1561.9 374.8L1564.4 371.1L1565.0 356.7L1566.5 353.6L1566.5 346.1L1568.5 344.2L1569.4 335.4L1572.5 334.2L1573.8 332.3L1576.5 329.2L1576.9 312.9L1579.4 309.8L1580.0 307.3L1581.2 299.8L1583.8 297.3L1584.4 293.3L1588.8 292.1L1589.1 272.3L1590.6 271.7L1591.0 266.7L1592.2 266.1L1593.8 248.6L1596.2 249.2L1598.1 248.3L1599.4 251.1L1600.6 251.3L1601.0 239.8L1602.2 239.2L1602.5 232.3L1603.8 231.7L1604.1 227.1L1606.2 226.7L1606.9 225.4L1607.2 254.2L1608.8 254.2L1610.0 251.7L1613.1 251.1L1613.8 246.1L1615.0 241.7L1615.6 237.3L1616.9 236.4L1620.0 236.7L1620.6 240.4L1621.9 237.3L1624.4 236.7L1625.0 234.8L1626.2 238.6L1627.5 244.2L1628.1 252.9L1629.4 248.6L1631.2 247.9L1631.6 239.8L1633.1 237.3L1635.6 238.8L1635.6 250.4L1637.5 253.6L1638.8 257.3L1640.0 259.2L1641.2 263.6L1643.1 266.7L1643.5 294.8L1644.8 295.4L1645.0 309.2L1646.2 310.4L1646.9 316.1L1647.8 317.3L1648.1 323.6L1649.4 322.3L1650.6 325.4L1651.9 329.8L1652.5 326.1L1652.5 326.1L1653.8 327.3L1654.0 347.3L1656.2 347.1L1657.5 346.1L1660.6 345.8L1661.0 339.8L1662.2 343.6L1663.1 340.4L1664.4 338.3L1667.5 337.6L1668.8 341.1L1669.1 336.7L1672.5 336.3L1673.1 332.3L1675.0 330.4L1676.2 332.9L1678.8 332.1L1680.0 332.3L1680.6 327.9L1682.5 327.3L1683.5 333.6L1684.4 327.3L1685.6 326.1L1686.9 329.8L1688.1 332.9L1690.0 331.7L1691.2 329.2L1692.5 326.7L1694.4 326.1L1695.0 347.3L1695.2 593.5L1695.5 619.8L1696.9 620.3L1697.1 631.0L1700.2 630.9L1702.0 627.8L1702.3 623.5L1704.2 623.4L1705.1 618.9L1707.7 618.4L1708.6 615.6L1709.2 615.6L1709.5 628.2L1711.4 630.1L1713.0 631.0L1713.6 625.4L1715.2 624.5L1717.0 626.2L1717.3 647.5L1719.4 646.5L1721.7 642.5L1723.1 646.0L1725.5 645.6L1725.9 640.0L1728.3 639.0L1729.2 636.7L1732.5 636.7L1734.4 638.5L1736.2 640.9L1738.6 641.2L1740.9 639.7L1744.7 639.5L1746.1 631.5L1748.4 629.2L1749.4 624.0L1751.2 621.2L1754.1 616.0L1756.9 615.6L1757.3 610.0L1758.7 609.0L1759.2 603.9L1761.1 602.9L1761.6 599.6L1763.0 599.4L1764.4 602.9L1766.2 603.9L1766.7 610.0L1768.6 610.0L1770.0 607.1L1772.3 602.9L1773.3 601.0L1774.7 602.9L1776.6 603.9L1778.0 602.9L1779.4 606.2L1780.8 602.9L1781.2 596.8L1782.7 595.0L1784.5 596.8M315.8 656.7L318.3 656.7L318.3 650.3L323.0 650.3L323.0 653.3L327.5 653.3L327.5 665.7L330.8 665.7L330.8 660.8L334.2 660.8L334.2 670.3L338.3 670.3L338.3 668.7L343.0 668.7L343.0 665.7L346.3 665.7L346.3 660.8L350.8 660.8L350.8 689.5L354.7 689.5L354.7 694.2L357.5 694.2L357.5 689.5L362.0 689.5L362.0 715.3L366.2 715.3L366.2 682.0L369.5 682.0L369.5 677.5L374.7 677.5L374.7 672.8L378.3 672.8L378.3 667.0L382.8 667.0L382.8 662.5L390.5 662.5L390.5 653.5L395.0 653.5L395.0 644.5L398.5 644.5L398.5 639.8L402.2 639.8L402.2 628.2L406.8 628.2L406.8 620.5L410.2 620.5L410.2 614.5L415.5 614.5L415.5 608.3L418.8 608.3L418.8 602.5L422.3 602.5L422.3 597.8L426.3 597.8L426.3 592.0L431.2 592.0L431.2 588.7L434.3 588.7L434.3 587.5L438.5 587.5L438.5 605.7L442.8 605.7L442.8 604.2L446.2 604.2L446.2 602.5L450.7 602.5L450.7 593.3L455.3 593.3L455.3 594.8L457.7 594.8L457.7 570.7L462.7 570.7L462.7 592.0L466.8 592.0L466.8 586.7L470.0 586.7L470.0 577.0L474.3 577.0L474.3 565.0L478.7 565.0L478.7 559.5L481.8 559.5L481.8 552.8L486.2 552.8L486.2 551.2L491.0 551.2L491.0 548.3L494.5 548.3L494.5 550.0L498.5 550.0L498.5 557.5L502.8 557.5L502.8 559.2L506.2 559.2L506.2 586.2L510.5 586.2L510.5 560.3L515.2 560.3L515.2 559.0L517.7 559.0L517.7 563.7L527.2 563.7L527.2 583.2L530.3 583.2L530.3 581.5L534.3 581.5L534.3 588.7L539.3 588.7L539.3 612.8L541.8 612.8L541.8 619.2L546.7 619.2L546.7 616.2L550.3 616.2L550.3 612.8L555.0 612.8M558.7 579.8L563.3 579.8L563.3 597.8L570.5 597.8L570.5 593.7L574.5 593.7L574.5 589.2L578.7 589.2L578.7 587.8L582.5 587.8L582.5 583.2L587.2 583.2L587.2 579.8L595.0 579.8L595.0 577.0L598.3 577.0L598.3 588.7L602.5 588.7L602.5 598.2L606.7 598.2L606.7 587.8L610.8 587.8L610.8 584.5L615.0 584.5L615.0 581.5L621.3 581.5L621.3 577.0L626.7 577.0L626.7 582.8L634.7 582.8L634.7 579.8L639.5 579.8L639.5 599.2L642.5 599.2L642.5 611.5L650.0 611.5L650.0 608.7L654.2 608.7L654.2 605.3L657.5 605.3L657.5 602.5L662.2 602.5L662.2 596.5L666.7 596.5L666.7 579.8L671.2 579.8L671.2 575.3L674.2 575.3L674.2 562.3L678.7 562.3L678.7 554.5L682.8 554.5L682.8 551.2L686.7 551.2L686.7 548.3L690.8 548.3L690.8 542.3L695.3 542.3L695.3 539.5L697.8 539.5L697.8 557.5L702.5 557.5L702.5 536.5L707.0 536.5L707.0 533.2L714.5 533.2L714.5 530.3L719.2 530.3L719.2 547.0L722.5 547.0L722.5 545.7L726.7 545.7L726.7 563.7L731.2 563.7L731.2 557.5L734.2 557.5L734.2 554.5L738.3 554.5L738.3 547.0L742.8 547.0L742.8 539.5L746.2 539.5L746.2 555.8L750.3 555.8L750.3 530.3L758.0 530.3L758.0 526.2L762.2 526.2L762.2 517.0L766.7 517.0L766.7 514.0L770.0 514.0L770.0 510.8L774.5 510.8L774.5 504.5L779.2 504.5L779.2 575.3L786.7 575.3L786.7 565.0L791.2 565.0L791.2 560.7L795.5 560.7L795.5 554.5L798.8 554.5L798.8 551.5L803.3 551.5L803.3 549.8L806.3 549.8L806.3 547.0L810.8 547.0L810.8 542.3L815.0 542.3L815.0 536.5L818.0 536.5L818.3 536.5L818.7 532.0L822.5 532.0L823.0 535.0L827.5 535.0L828.0 532.0L834.5 532.0L835.0 537.8L837.5 537.8L838.3 536.5L844.2 536.2L845.0 532.0L846.3 532.0L846.7 537.8L848.0 542.5L849.2 538.7L852.0 539.5L853.0 536.2L855.3 535.3L857.2 524.5L860.0 523.7L860.8 521.7L864.2 521.2L865.0 517.0L868.0 515.3L868.8 508.7L871.3 507.8L872.2 504.0L875.8 500.3L876.7 496.2L879.2 495.3L881.3 484.5L883.7 484.2L884.5 479.5L888.0 479.2L888.7 475.3L892.5 474.5L893.3 480.3L896.2 480.8L897.0 479.5L900.0 479.5L900.8 476.5L904.2 477.0L905.0 500.3L907.5 500.3L908.3 497.0L911.7 498.7L912.5 494.5L916.7 494.5L917.2 500.3L920.0 500.3L920.8 497.0L923.7 496.2L924.7 491.5L928.3 491.2L930.0 494.0L932.0 493.7L932.5 488.7L935.8 488.7L936.7 485.3L938.0 486.2L938.3 490.3L941.3 495.8L942.5 498.2L944.2 506.2L945.8 503.3L948.3 502.8L949.2 500.3L951.7 499.8L953.3 496.2L955.0 498.7L956.7 495.3L958.3 496.2L960.8 489.8L964.2 489.8L965.0 494.5L967.5 492.5L969.2 494.2L970.5 488.7L973.3 487.3L974.2 498.7L975.8 502.8L976.2 511.2L978.3 521.2L979.2 530.3L981.7 531.2L982.5 541.2L984.2 544.5L986.2 544.5L986.7 554.5L987.2 569.5L988.0 572.8L988.3 591.2L989.2 596.2L989.7 578.7L990.5 597.8L990.8 614.5L993.3 620.3L995.8 623.7L998.3 624.5L999.2 618.7L1000.8 627.0L1002.5 628.2L1006.7 625.8L1010.8 618.7L1012.5 612.8L1013.0 607.0L1016.7 602.8L1020.0 597.8L1023.3 590.3L1024.2 581.2L1025.8 573.7L1027.5 567.0L1030.0 562.8L1034.2 562.0L1035.8 551.2L1038.0 545.3L1041.7 541.5L1044.7 540.3L1047.5 532.8L1048.7 525.3L1049.7 517.0L1052.5 518.7L1053.3 514.5L1056.7 512.0L1060.8 509.5L1061.7 497.8L1064.2 493.7L1068.3 493.2L1071.3 488.7L1072.5 475.3L1074.2 466.2L1076.3 460.3L1080.0 458.7L1085.0 454.5L1086.7 444.2L1088.0 440.8L1088.3 435.3L1090.8 434.2L1095.0 432.5L1097.2 425.0L1100.0 422.5L1103.3 420.8L1105.3 415.8L1108.0 414.2L1109.2 405.0L1111.3 399.2L1114.2 393.3L1115.0 386.7L1116.7 378.3L1118.7 376.7L1120.3 368.3L1123.3 362.5L1124.7 359.2L1128.0 358.3L1129.2 353.3L1131.7 351.7L1133.3 344.2L1135.8 343.3L1137.5 339.7L1139.7 339.7L1141.3 345.0L1143.3 343.3L1145.0 337.5L1146.3 340.0L1148.0 341.7L1149.2 338.3L1151.7 336.7L1153.3 333.7L1155.8 334.7L1157.5 340.0L1159.7 342.5L1161.3 342.0L1163.0 337.5L1164.7 336.7L1165.5 332.5L1168.3 330.8L1169.7 326.3L1173.3 325.3L1174.7 321.7L1176.3 318.7L1179.2 318.5L1180.5 322.5L1181.7 320.5L1184.2 329.2L1186.3 325.8L1189.2 325.0L1192.5 325.8L1193.3 320.5L1195.8 323.0L1197.5 321.3L1200.0 320.0L1200.8 315.8L1204.2 314.2L1205.8 318.3L1208.3 320.0L1210.8 315.8L1212.5 312.5L1215.5 312.5L1216.3 320.8L1218.3 319.2L1218.8 343.7L1221.7 343.0L1223.3 338.3L1225.3 336.7L1227.0 340.0L1228.3 348.0L1229.7 341.7L1232.5 342.0L1234.2 339.2L1237.5 338.3L1240.0 339.2L1241.2 343.3L1241.7 369.2L1243.3 372.0L1245.0 367.5L1246.3 368.0L1248.7 385.3L1252.5 385.3L1253.3 380.3L1256.7 380.0L1258.0 375.8L1260.0 375.0L1261.3 371.3L1264.2 371.7L1265.3 367.0L1268.0 367.5L1269.2 365.8L1271.7 365.0L1273.3 362.0L1275.8 365.0L1277.5 375.0L1278.7 376.7L1279.2 393.3L1281.3 390.8L1283.3 395.8L1286.7 394.7L1289.7 392.0L1291.7 398.3L1294.2 397.0L1296.7 397.0L1299.2 394.2L1302.5 394.2L1305.8 392.0L1307.5 395.8L1310.0 393.3L1312.5 397.0L1315.0 395.8L1318.3 400.8L1320.8 405.8L1324.2 410.0L1326.3 409.2L1328.0 418.3L1330.0 415.0L1332.5 416.7L1335.0 414.2L1337.5 410.8L1340.0 407.5L1342.0 410.8L1344.2 412.5L1346.7 409.2L1349.2 408.3L1351.7 404.2L1354.2 406.7L1356.7 405.8L1359.2 404.2L1360.8 410.0L1363.3 412.5L1365.0 408.3L1367.5 409.2L1369.7 406.7L1372.5 408.3L1374.2 423.3L1375.0 431.7L1375.8 440.0L1377.0 436.7L1380.0 436.7L1381.3 433.8L1384.2 435.0L1386.7 435.0L1388.3 439.2L1391.7 441.7L1394.2 438.3L1396.7 437.5L1397.2 430.0L1400.0 428.3L1401.7 425.3L1403.3 426.7L1405.0 421.7L1406.7 422.0L1408.3 420.3L1410.0 422.0L1411.7 420.0L1414.2 419.2L1416.7 415.0L1418.3 411.7L1420.8 410.8L1421.7 400.8L1423.3 405.8L1424.2 378.7L1427.5 378.0L1430.0 373.3L1431.7 369.2L1433.0 360.0L1433.3 396.7L1435.8 396.3L1438.3 390.8L1440.8 388.3L1444.2 384.2L1445.3 378.7L1448.3 378.3L1450.0 374.2L1452.5 373.3L1453.3 370.8L1456.7 370.0L1457.5 368.3L1460.8 368.7L1462.5 367.0L1466.7 367.5L1469.2 364.7L1471.7 367.5L1473.3 378.3L1474.2 365.0L1475.8 364.2L1476.3 345.8L1478.0 345.8L1478.3 360.0L1480.8 355.8L1482.5 357.0L1483.8 376.7L1485.3 369.2L1488.3 368.3L1490.0 365.8L1492.5 364.7L1493.7 362.0L1495.8 373.3L1499.2 373.7L1500.8 370.8L1504.2 371.7L1505.8 369.2L1509.2 368.3L1511.7 365.3L1514.2 365.0L1516.7 368.3L1518.7 368.7L1518.2 369.8L1518.2 388.1L1521.4 388.1L1521.7 368.9L1522.6 388.1L1522.6 404.5L1524.1 426.5L1524.1 459.5L1526.0 460.5L1526.0 536.5L1527.8 537.5L1527.8 554.5L1529.0 599.5L1529.0 620.3L1530.6 621.0L1530.6 760.0L1531.2 760.0L1531.9 780.5L1533.5 753.8L1534.0 780.0L1535.0 758.1L1535.3 804.1L1536.9 804.1L1537.2 766.2L1539.8 766.0L1541.0 752.5L1541.2 713.1L1543.1 712.5L1543.5 695.0L1544.4 694.5L1545.0 664.5L1548.1 662.0L1548.5 635.8L1550.6 634.3L1551.5 622.6L1553.1 609.5L1553.8 594.5L1552.5 599.5L1552.6 575.1L1555.0 573.2L1557.5 545.8L1561.9 547.0L1561.9 529.5L1564.4 525.8L1565.0 511.4L1566.5 508.2L1566.5 500.8L1568.5 498.9L1569.4 490.1L1572.5 488.9L1573.8 487.0L1576.5 483.9L1576.9 467.6L1579.4 464.5L1580.0 462.0L1581.2 454.5L1583.8 452.0L1584.4 448.0L1588.8 446.8L1589.1 427.0L1590.6 426.4L1591.0 421.4L1592.2 420.8L1593.8 403.2L1596.2 403.9L1598.1 403.0L1599.4 405.8L1600.6 406.0L1601.0 394.5L1602.2 393.9L1602.5 387.0L1603.8 386.4L1604.1 381.8L1606.2 381.4L1606.9 380.1L1607.2 408.9L1608.8 408.9L1610.0 406.4L1613.1 405.8L1613.8 400.8L1615.0 396.4L1615.6 392.0L1616.9 391.1L1620.0 391.4L1620.6 395.1L1621.9 392.0L1624.4 391.4L1625.0 389.5L1626.2 393.2L1627.5 398.9L1628.1 407.6L1629.4 403.2L1631.2 402.6L1631.6 394.5L1633.1 392.0L1635.6 393.5L1635.6 405.1L1637.5 408.2L1638.8 412.0L1640.0 413.9L1641.2 418.2L1643.1 421.4L1643.5 449.5L1644.8 450.1L1645.0 463.9L1646.2 465.1L1646.9 470.8L1647.8 472.0L1648.1 478.2L1649.4 477.0L1650.6 480.1L1651.9 484.5L1652.5 480.8L1652.5 480.8L1653.8 482.0L1654.0 502.0L1656.2 501.8L1657.5 500.8L1660.6 500.5L1661.0 494.5L1662.2 498.2L1663.1 495.1L1664.4 493.0L1667.5 492.2L1668.8 495.8L1669.1 491.4L1672.5 491.0L1673.1 487.0L1675.0 485.1L1676.2 487.6L1678.8 486.8L1680.0 487.0L1680.6 482.6L1682.5 482.0L1683.5 488.2L1684.4 482.0L1685.6 480.8L1686.9 484.5L1688.1 487.6L1690.0 486.4L1691.2 483.9L1692.5 481.4L1694.4 480.8L1695.0 502.0L1695.2 748.2L1695.5 774.5L1696.9 775.0L1697.1 785.7L1700.2 785.6L1702.0 782.5L1702.3 778.2L1704.2 778.1L1705.1 773.6L1707.7 773.1L1708.6 770.3L1709.2 770.3L1709.5 782.9L1711.4 784.8L1713.0 785.7L1713.6 780.1L1715.2 779.2L1717.0 780.9L1717.3 802.2L1719.4 801.2L1721.7 797.2L1723.1 800.7L1725.5 800.3L1725.9 794.7L1728.3 793.7L1729.2 791.4L1732.5 791.4L1734.4 793.2L1736.2 795.6L1738.6 795.9L1740.9 794.4L1744.7 794.2L1746.1 786.2L1748.4 783.9L1749.4 778.7L1751.2 775.9L1754.1 770.7L1756.9 770.3L1757.3 764.7L1758.7 763.7L1759.2 758.6L1761.1 757.6L1761.6 754.3L1763.0 754.1L1764.4 757.6L1766.2 758.6L1766.7 764.7L1768.6 764.7L1770.0 761.8L1772.3 757.6L1773.3 755.7L1774.7 757.6L1776.6 758.6L1778.0 757.6L1779.4 760.9L1780.8 757.6L1781.2 751.5L1782.7 749.7L1784.5 751.5" stroke="#00f" stroke-width="2.3"/>
</g>
<rect x="77" y="51.5" width="1591.5" height="48" fill="#2f7d72"/>
<text x="126.7" y="85" font-size="31" fill="#fff" textLength="1491" lengthAdjust="spacingAndGlyphs">S&amp;P 500 APPAREL, ACCESSORIES &amp; LUXURY GOODS: INDEX, FORWARD EARNINGS &amp; VALUATION</text>
<rect x="78.7" y="103.9" width="584.8" height="89.8" fill="#fff" stroke="#000" stroke-width="2.8"/>
<path d="M86 120.7H140" stroke="#f00" stroke-width="2.2"/>
<path d="M86 147.8H140" stroke="#00f" stroke-width="2.2"/>
<rect x="86" y="165.7" width="54" height="17.8" fill="#d9d9d9"/>
<text font-size="24" fill="#000"><tspan x="149.3" y="128" textLength="386.6" lengthAdjust="spacingAndGlyphs">Stock Price Index (Sep 05 = 111.2)</tspan><tspan x="149.3" y="155" textLength="473.8" lengthAdjust="spacingAndGlyphs">Blue Angels Implied Price Index* (Sep 05)</tspan><tspan x="149.3" y="182" textLength="117.6" lengthAdjust="spacingAndGlyphs">Recession</tspan></text>
<rect x="72.6" y="47.2" width="1776.0" height="914.8" fill="none" stroke="#000" stroke-width="4"/>
<path d="M63.2 962.0H72.6M1848.6 962.0H1858.0M63.2 697.6H72.6M1848.6 697.6H1858.0M63.2 542.9H72.6M1848.6 542.9H1858.0M63.2 433.1H72.6M1848.6 433.1H1858.0M63.2 348.0H72.6M1848.6 348.0H1858.0M63.2 278.4H72.6M1848.6 278.4H1858.0M63.2 219.6H72.6M1848.6 219.6H1858.0M63.2 168.7H72.6M1848.6 168.7H1858.0M63.2 123.8H72.6M1848.6 123.8H1858.0M63.2 83.6H72.6M1848.6 83.6H1858.0M63.2 47.2H72.6M1848.6 47.2H1858.0M72.6 962.0V971.7M312.6 962.0V971.7M552.6 962.0V971.7M792.6 962.0V971.7M1032.6 962.0V971.7M1272.6 962.0V971.7M1512.6 962.0V971.7M1752.6 962.0V971.7" stroke="#000" stroke-width="1.6" fill="none"/>
<path d="M67.3 892.4H72.6M1848.6 892.4H1853.9M67.3 833.6H72.6M1848.6 833.6H1853.9M67.3 782.7H72.6M1848.6 782.7H1853.9M67.3 737.8H72.6M1848.6 737.8H1853.9M67.3 661.2H72.6M1848.6 661.2H1853.9M67.3 628.0H72.6M1848.6 628.0H1853.9M67.3 597.5H72.6M1848.6 597.5H1853.9M67.3 569.2H72.6M1848.6 569.2H1853.9M67.3 518.3H72.6M1848.6 518.3H1853.9M67.3 495.1H72.6M1848.6 495.1H1853.9M67.3 473.3H72.6M1848.6 473.3H1853.9M67.3 452.7H72.6M1848.6 452.7H1853.9M67.3 414.5H72.6M1848.6 414.5H1853.9M67.3 396.8H72.6M1848.6 396.8H1853.9M67.3 379.8H72.6M1848.6 379.8H1853.9M67.3 363.6H72.6M1848.6 363.6H1853.9M67.3 333.0H72.6M1848.6 333.0H1853.9M67.3 318.6H72.6M1848.6 318.6H1853.9M67.3 304.8H72.6M1848.6 304.8H1853.9M67.3 291.4H72.6M1848.6 291.4H1853.9M67.3 265.9H72.6M1848.6 265.9H1853.9M67.3 253.8H72.6M1848.6 253.8H1853.9M67.3 242.1H72.6M1848.6 242.1H1853.9M67.3 230.7H72.6M1848.6 230.7H1853.9M67.3 208.9H72.6M1848.6 208.9H1853.9M67.3 198.4H72.6M1848.6 198.4H1853.9M67.3 188.3H72.6M1848.6 188.3H1853.9M67.3 178.3H72.6M1848.6 178.3H1853.9M67.3 159.3H72.6M1848.6 159.3H1853.9M67.3 150.1H72.6M1848.6 150.1H1853.9M67.3 141.1H72.6M1848.6 141.1H1853.9M67.3 132.3H72.6M1848.6 132.3H1853.9M67.3 115.4H72.6M1848.6 115.4H1853.9M67.3 107.2H72.6M1848.6 107.2H1853.9M67.3 99.1H72.6M1848.6 99.1H1853.9M67.3 91.3H72.6M1848.6 91.3H1853.9M67.3 76.0H72.6M1848.6 76.0H1853.9M67.3 68.6H72.6M1848.6 68.6H1853.9M67.3 61.3H72.6M1848.6 61.3H1853.9M67.3 54.2H72.6M1848.6 54.2H1853.9M120.6 962.0V967.2M168.6 962.0V967.2M216.6 962.0V967.2M264.6 962.0V967.2M360.6 962.0V967.2M408.6 962.0V967.2M456.6 962.0V967.2M504.6 962.0V967.2M600.6 962.0V967.2M648.6 962.0V967.2M696.6 962.0V967.2M744.6 962.0V967.2M840.6 962.0V967.2M888.6 962.0V967.2M936.6 962.0V967.2M984.6 962.0V967.2M1080.6 962.0V967.2M1128.6 962.0V967.2M1176.6 962.0V967.2M1224.6 962.0V967.2M1320.6 962.0V967.2M1368.6 962.0V967.2M1416.6 962.0V967.2M1464.6 962.0V967.2M1560.6 962.0V967.2M1608.6 962.0V967.2M1656.6 962.0V967.2M1704.6 962.0V967.2M1800.6 962.0V967.2M1848.6 962.0V967.2" stroke="#000" stroke-width="1.2" fill="none"/>
<g font-size="24" fill="#000">
<text x="54" y="967.8" text-anchor="end">50</text>
<text x="1866.2" y="967.8">50</text>
<text x="54" y="703.4" text-anchor="end">100</text>
<text x="1866.2" y="703.4">100</text>
<text x="54" y="548.7" text-anchor="end">150</text>
<text x="1866.2" y="548.7">150</text>
<text x="54" y="438.9" text-anchor="end">200</text>
<text x="1866.2" y="438.9">200</text>
<text x="54" y="353.8" text-anchor="end">250</text>
<text x="1866.2" y="353.8">250</text>
<text x="54" y="284.2" text-anchor="end">300</text>
<text x="1866.2" y="284.2">300</text>
<text x="54" y="225.4" text-anchor="end">350</text>
<text x="1866.2" y="225.4">350</text>
<text x="54" y="174.5" text-anchor="end">400</text>
<text x="1866.2" y="174.5">400</text>
<text x="54" y="129.6" text-anchor="end">450</text>
<text x="1866.2" y="129.6">450</text>
<text x="54" y="89.4" text-anchor="end">500</text>
<text x="1866.2" y="89.4">500</text>
<text x="54" y="53.0" text-anchor="end">550</text>
<text x="1866.2" y="53.0">550</text>
<text x="72.6" y="996.2" text-anchor="middle">1990</text>
<text x="312.6" y="996.2" text-anchor="middle">1995</text>
<text x="552.6" y="996.2" text-anchor="middle">2000</text>
<text x="792.6" y="996.2" text-anchor="middle">2005</text>
<text x="1032.6" y="996.2" text-anchor="middle">2010</text>
<text x="1272.6" y="996.2" text-anchor="middle">2015</text>
<text x="1512.6" y="996.2" text-anchor="middle">2020</text>
<text x="1752.6" y="996.2" text-anchor="middle">2025</text>
</g>
<g font-size="24" fill="#00f"><text x="1798" y="492.3">x24</text><text x="1806" y="604.3">x18</text><text x="1806" y="758.3">x12</text></g>
<text font-size="24" fill="#000"><tspan x="75.5" y="1035" textLength="806.7" lengthAdjust="spacingAndGlyphs">Source: LSEG Datastream and © Yardeni Research. Standard &amp; Poor's.</tspan><tspan x="75.5" y="1068" textLength="860.1" lengthAdjust="spacingAndGlyphs">* Implied price index calculated using forward earnings times forward P/Es.</tspan></text>
</svg>
</body></html>
